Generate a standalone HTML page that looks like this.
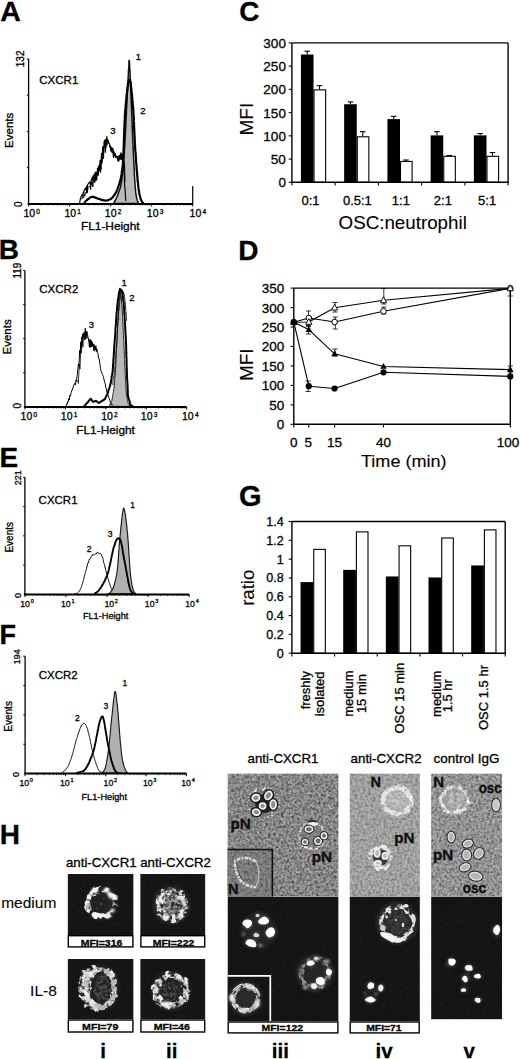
<!DOCTYPE html><html><head><meta charset="utf-8"><style>html,body{margin:0;padding:0;background:#fff;width:520px;height:1059px;overflow:hidden}svg{display:block;font-family:"Liberation Sans",sans-serif}text{stroke:#000;stroke-width:0.3px;stroke-linejoin:round}</style></head><body><svg width="520" height="1059" viewBox="0 0 520 1059" font-family="'Liberation Sans', sans-serif"><defs><filter id="nz" x="0" y="0" width="100%" height="100%"><feTurbulence type="fractalNoise" baseFrequency="0.38" numOctaves="2" seed="3" result="t"/><feColorMatrix type="matrix" values="0 0 0 0 0  0 0 0 0 0  0 0 0 0 0  2.2 0 0 0 -0.85" result="a"/><feComposite in="a" in2="SourceGraphic" operator="in"/></filter><filter id="nzw" x="0" y="0" width="100%" height="100%"><feTurbulence type="fractalNoise" baseFrequency="0.42" numOctaves="2" seed="7" result="t"/><feColorMatrix type="matrix" values="0 0 0 0 1  0 0 0 0 1  0 0 0 0 1  2.2 0 0 0 -0.9" result="a"/><feComposite in="a" in2="SourceGraphic" operator="in"/></filter><filter id="nzd" x="0" y="0" width="100%" height="100%"><feTurbulence type="fractalNoise" baseFrequency="0.3" numOctaves="2" seed="9" result="t"/><feColorMatrix type="matrix" values="0 0 0 0 1  0 0 0 0 1  0 0 0 0 1  2.5 0 0 0 -1.35" result="a"/><feComposite in="a" in2="SourceGraphic" operator="in"/></filter><filter id="bl" x="-50%" y="-50%" width="200%" height="200%"><feGaussianBlur stdDeviation="0.7"/></filter><filter id="bl1" x="-50%" y="-50%" width="200%" height="200%"><feGaussianBlur stdDeviation="1.0"/></filter><filter id="bl2" x="-50%" y="-50%" width="200%" height="200%"><feGaussianBlur stdDeviation="1.8"/></filter><filter id="bl3" x="-50%" y="-50%" width="200%" height="200%"><feGaussianBlur stdDeviation="3.5"/></filter><filter id="spk0" x="-20%" y="-20%" width="140%" height="140%"><feTurbulence type="fractalNoise" baseFrequency="0.22" numOctaves="3" seed="11" result="n"/><feColorMatrix in="n" type="matrix" values="0 0 0 0 0  0 0 0 0 0  0 0 0 0 0  6.00 0 0 0 -2.40" result="m"/><feComposite in="SourceGraphic" in2="m" operator="in" result="s"/><feGaussianBlur in="s" stdDeviation="0.7"/></filter><filter id="spk1" x="-20%" y="-20%" width="140%" height="140%"><feTurbulence type="fractalNoise" baseFrequency="0.26" numOctaves="3" seed="18" result="n"/><feColorMatrix in="n" type="matrix" values="0 0 0 0 0  0 0 0 0 0  0 0 0 0 0  6.00 0 0 0 -2.30" result="m"/><feComposite in="SourceGraphic" in2="m" operator="in" result="s"/><feGaussianBlur in="s" stdDeviation="0.7"/></filter><filter id="spk2" x="-20%" y="-20%" width="140%" height="140%"><feTurbulence type="fractalNoise" baseFrequency="0.20" numOctaves="3" seed="25" result="n"/><feColorMatrix in="n" type="matrix" values="0 0 0 0 0  0 0 0 0 0  0 0 0 0 0  6.50 0 0 0 -2.60" result="m"/><feComposite in="SourceGraphic" in2="m" operator="in" result="s"/><feGaussianBlur in="s" stdDeviation="0.7"/></filter><filter id="spk3" x="-20%" y="-20%" width="140%" height="140%"><feTurbulence type="fractalNoise" baseFrequency="0.30" numOctaves="3" seed="32" result="n"/><feColorMatrix in="n" type="matrix" values="0 0 0 0 0  0 0 0 0 0  0 0 0 0 0  5.50 0 0 0 -2.00" result="m"/><feComposite in="SourceGraphic" in2="m" operator="in" result="s"/><feGaussianBlur in="s" stdDeviation="0.7"/></filter><filter id="spk4" x="-20%" y="-20%" width="140%" height="140%"><feTurbulence type="fractalNoise" baseFrequency="0.24" numOctaves="3" seed="39" result="n"/><feColorMatrix in="n" type="matrix" values="0 0 0 0 0  0 0 0 0 0  0 0 0 0 0  5.00 0 0 0 -1.70" result="m"/><feComposite in="SourceGraphic" in2="m" operator="in" result="s"/><feGaussianBlur in="s" stdDeviation="0.7"/></filter><filter id="org0" x="-30%" y="-30%" width="160%" height="160%"><feTurbulence type="fractalNoise" baseFrequency="0.120" numOctaves="2" seed="4" result="n"/><feDisplacementMap in="SourceGraphic" in2="n" scale="8.0" xChannelSelector="R" yChannelSelector="G" result="d"/><feTurbulence type="fractalNoise" baseFrequency="0.200" numOctaves="2" seed="7" result="n2"/><feColorMatrix in="n2" type="matrix" values="0 0 0 0 0  0 0 0 0 0  0 0 0 0 0  5.00 0 0 0 -2.00" result="m"/><feComposite in="d" in2="m" operator="in" result="s"/><feGaussianBlur in="s" stdDeviation="0.7"/></filter><filter id="org1" x="-30%" y="-30%" width="160%" height="160%"><feTurbulence type="fractalNoise" baseFrequency="0.150" numOctaves="2" seed="14" result="n"/><feDisplacementMap in="SourceGraphic" in2="n" scale="6.0" xChannelSelector="R" yChannelSelector="G" result="d"/><feTurbulence type="fractalNoise" baseFrequency="0.250" numOctaves="2" seed="17" result="n2"/><feColorMatrix in="n2" type="matrix" values="0 0 0 0 0  0 0 0 0 0  0 0 0 0 0  5.00 0 0 0 -2.00" result="m"/><feComposite in="d" in2="m" operator="in" result="s"/><feGaussianBlur in="s" stdDeviation="0.7"/></filter><filter id="org2" x="-30%" y="-30%" width="160%" height="160%"><feTurbulence type="fractalNoise" baseFrequency="0.130" numOctaves="2" seed="24" result="n"/><feDisplacementMap in="SourceGraphic" in2="n" scale="7.0" xChannelSelector="R" yChannelSelector="G" result="d"/><feTurbulence type="fractalNoise" baseFrequency="0.220" numOctaves="2" seed="27" result="n2"/><feColorMatrix in="n2" type="matrix" values="0 0 0 0 0  0 0 0 0 0  0 0 0 0 0  5.00 0 0 0 -1.80" result="m"/><feComposite in="d" in2="m" operator="in" result="s"/><feGaussianBlur in="s" stdDeviation="0.7"/></filter><filter id="org3" x="-30%" y="-30%" width="160%" height="160%"><feTurbulence type="fractalNoise" baseFrequency="0.140" numOctaves="2" seed="34" result="n"/><feDisplacementMap in="SourceGraphic" in2="n" scale="7.0" xChannelSelector="R" yChannelSelector="G" result="d"/><feTurbulence type="fractalNoise" baseFrequency="0.300" numOctaves="2" seed="37" result="n2"/><feColorMatrix in="n2" type="matrix" values="0 0 0 0 0  0 0 0 0 0  0 0 0 0 0  5.00 0 0 0 -2.20" result="m"/><feComposite in="d" in2="m" operator="in" result="s"/><feGaussianBlur in="s" stdDeviation="0.7"/></filter><filter id="org4" x="-30%" y="-30%" width="160%" height="160%"><feTurbulence type="fractalNoise" baseFrequency="0.120" numOctaves="2" seed="44" result="n"/><feDisplacementMap in="SourceGraphic" in2="n" scale="6.0" xChannelSelector="R" yChannelSelector="G" result="d"/><feTurbulence type="fractalNoise" baseFrequency="0.200" numOctaves="2" seed="47" result="n2"/><feColorMatrix in="n2" type="matrix" values="0 0 0 0 0  0 0 0 0 0  0 0 0 0 0  4.50 0 0 0 -1.50" result="m"/><feComposite in="d" in2="m" operator="in" result="s"/><feGaussianBlur in="s" stdDeviation="0.7"/></filter><filter id="org5" x="-30%" y="-30%" width="160%" height="160%"><feTurbulence type="fractalNoise" baseFrequency="0.160" numOctaves="2" seed="54" result="n"/><feDisplacementMap in="SourceGraphic" in2="n" scale="5.0" xChannelSelector="R" yChannelSelector="G" result="d"/><feTurbulence type="fractalNoise" baseFrequency="0.280" numOctaves="2" seed="57" result="n2"/><feColorMatrix in="n2" type="matrix" values="0 0 0 0 0  0 0 0 0 0  0 0 0 0 0  5.00 0 0 0 -2.00" result="m"/><feComposite in="d" in2="m" operator="in" result="s"/><feGaussianBlur in="s" stdDeviation="0.7"/></filter><filter id="org6" x="-30%" y="-30%" width="160%" height="160%"><feTurbulence type="fractalNoise" baseFrequency="0.100" numOctaves="2" seed="64" result="n"/><feDisplacementMap in="SourceGraphic" in2="n" scale="5.0" xChannelSelector="R" yChannelSelector="G" result="d"/><feTurbulence type="fractalNoise" baseFrequency="0.160" numOctaves="2" seed="67" result="n2"/><feColorMatrix in="n2" type="matrix" values="0 0 0 0 0  0 0 0 0 0  0 0 0 0 0  7.00 0 0 0 -3.10" result="m"/><feComposite in="d" in2="m" operator="in" result="s"/><feGaussianBlur in="s" stdDeviation="0.7"/></filter><clipPath id="cp1"><rect x="67.60" y="874.00" width="66.00" height="61.00"/></clipPath><clipPath id="cp2"><rect x="140.20" y="874.00" width="65.20" height="61.00"/></clipPath><clipPath id="cp3"><rect x="67.60" y="959.00" width="66.00" height="60.30"/></clipPath><clipPath id="cp4"><rect x="140.20" y="959.00" width="65.20" height="60.30"/></clipPath><clipPath id="cp5"><rect x="227.50" y="773.40" width="111.10" height="123.00"/></clipPath><clipPath id="cp6"><rect x="227.50" y="896.40" width="111.10" height="124.90"/></clipPath><clipPath id="cp7"><rect x="349.50" y="773.40" width="70.40" height="123.00"/></clipPath><clipPath id="cp8"><rect x="349.50" y="896.40" width="70.40" height="124.90"/></clipPath><clipPath id="cp9"><rect x="431.10" y="773.40" width="71.10" height="123.00"/></clipPath><clipPath id="cp10"><rect x="431.10" y="896.40" width="71.10" height="123.00"/></clipPath></defs><rect width="520" height="1059" fill="#fff"/><text x="0.30" y="20.90" font-size="28.50" font-weight="bold" fill="#000">A</text>
<path d="M113.50 203.35 L113.81 202.82 L114.12 202.33 L114.44 201.63 L114.75 201.14 L115.06 200.78 L115.37 200.19 L115.68 199.49 L116.01 198.84 L116.32 198.16 L116.60 197.56 L116.88 196.99 L117.10 196.23 L117.37 195.84 L117.65 195.19 L117.90 194.59 L118.11 193.86 L118.34 193.28 L118.49 192.87 L118.72 191.93 L118.95 191.73 L119.16 190.96 L119.36 190.30 L119.57 189.62 L119.80 189.15 L120.00 188.60 L120.20 188.10 L120.29 187.40 L120.59 186.92 L120.66 186.31 L120.73 185.56 L120.91 185.00 L120.96 184.00 L121.23 183.75 L121.32 182.58 L121.34 182.16 L121.57 181.44 L121.57 181.23 L121.64 180.43 L121.77 179.90 L121.97 179.42 L122.05 178.52 L121.94 177.76 L122.01 177.38 L122.16 176.45 L122.18 176.17 L122.40 175.11 L122.49 174.72 L122.45 174.58 L122.55 173.62 L122.63 173.15 L122.69 172.46 L122.73 172.15 L122.83 171.12 L122.80 170.35 L122.91 170.33 L122.86 169.36 L123.04 168.64 L123.10 167.71 L123.05 167.58 L123.19 166.96 L123.23 166.38 L123.36 165.78 L123.29 164.62 L123.51 164.52 L123.46 163.55 L123.48 163.20 L123.53 162.39 L123.63 161.77 L123.63 161.09 L123.61 160.84 L123.80 160.06 L123.74 159.22 L123.79 158.99 L123.88 157.87 L123.86 157.66 L123.95 156.73 L124.02 156.52 L124.01 155.91 L124.16 154.87 L124.15 154.68 L124.13 153.53 L124.18 153.15 L124.35 152.75 L124.28 151.62 L124.39 151.50 L124.37 150.87 L124.39 149.70 L124.43 149.61 L124.50 148.63 L124.53 148.06 L124.52 147.84 L124.72 146.48 L124.77 146.55 L124.80 145.57 L124.69 145.34 L124.85 144.57 L124.83 143.88 L124.83 142.96 L124.80 142.28 L124.88 141.95 L124.86 141.50 L125.03 140.95 L125.10 140.34 L125.07 139.69 L125.13 138.36 L125.08 137.86 L125.15 137.63 L125.27 136.81 L125.18 136.34 L125.32 135.43 L125.34 134.98 L125.25 134.26 L125.41 133.78 L125.44 132.86 L125.47 132.84 L125.34 132.13 L125.55 131.35 L125.46 130.26 L125.54 129.81 L125.56 129.31 L125.50 128.97 L125.56 127.77 L125.58 127.20 L125.76 127.25 L125.73 125.92 L125.72 125.48 L125.82 124.88 L125.79 124.44 L125.82 123.50 L125.89 122.82 L125.89 122.67 L125.88 121.54 L126.00 121.15 L125.98 120.85 L126.06 120.24 L126.04 119.32 L126.14 118.75 L126.17 118.06 L126.11 117.47 L126.23 116.90 L126.20 115.91 L126.33 115.57 L126.25 115.35 L126.37 114.69 L126.33 113.56 L126.43 112.82 L126.48 112.63 L126.46 112.11 L126.47 111.44 L126.51 110.31 L126.45 109.60 L126.46 109.59 L126.50 108.42 L126.55 108.43 L126.71 107.12 L126.74 106.57 L126.77 106.39 L126.75 105.99 L126.67 105.24 L126.79 104.59 L126.74 103.92 L126.94 103.32 L126.85 102.15 L126.98 101.93 L126.88 101.04 L127.00 100.42 L126.98 100.20 L127.02 99.27 L127.05 98.63 L127.10 97.79 L127.11 97.88 L127.09 97.07 L127.24 96.40 L127.22 95.76 L127.28 94.99 L127.21 94.69 L127.36 93.43 L127.35 93.46 L127.42 92.45 L127.36 91.62 L127.45 91.01 L127.42 90.48 L127.59 90.15 L127.57 89.21 L127.63 88.68 L127.55 88.19 L127.53 87.27 L127.63 86.86 L127.66 85.99 L127.77 85.48 L127.85 84.71 L127.80 84.38 L127.88 83.76 L127.86 83.44 L127.92 82.56 L127.89 82.25 L128.03 81.54 L127.92 80.72 L128.05 79.93 L128.13 79.68 L128.02 79.21 L128.06 78.07 L128.18 77.46 L128.25 77.39 L128.27 76.30 L128.22 75.71 L128.19 75.41 L128.38 74.27 L128.32 73.79 L128.42 73.38 L128.39 72.29 L128.45 71.99 L128.51 71.18 L128.51 71.14 L128.49 70.17 L128.63 69.32 L128.71 68.52 L128.59 68.50 L128.69 67.86 L128.80 67.06 L128.82 66.01 L128.89 65.63 L128.91 64.65 L128.93 64.54 L128.86 63.60 L128.94 62.95 L129.04 62.52 L128.97 61.79 L129.09 61.25 L129.18 60.27 L129.25 60.65 L129.29 61.48 L129.45 61.61 L129.46 62.43 L129.48 63.08 L129.47 63.42 L129.62 63.83 L129.62 65.04 L129.62 65.70 L129.66 65.98 L129.63 67.14 L129.71 67.51 L129.77 68.38 L129.82 68.70 L129.93 69.53 L129.98 70.02 L129.89 70.46 L129.89 71.09 L130.05 72.27 L129.97 72.43 L130.11 73.25 L130.15 74.21 L130.06 74.66 L130.10 75.15 L130.21 75.89 L130.18 76.26 L130.16 77.33 L130.36 77.96 L130.28 78.68 L130.35 78.97 L130.45 79.64 L130.35 80.29 L130.41 81.04 L130.48 81.44 L130.52 81.57 L130.49 82.70 L130.51 83.20 L130.55 83.54 L130.57 84.02 L130.59 85.12 L130.72 85.68 L130.58 86.56 L130.70 87.11 L130.67 87.14 L130.64 87.91 L130.84 88.78 L130.85 89.23 L130.73 90.16 L130.85 90.91 L130.89 91.59 L130.84 92.07 L130.99 92.75 L130.91 93.41 L130.95 93.96 L130.88 94.06 L130.94 94.66 L131.02 95.35 L131.06 96.41 L131.10 96.81 L131.09 97.34 L131.11 98.33 L131.23 98.49 L131.15 99.55 L131.21 99.90 L131.17 100.70 L131.19 100.85 L131.20 102.10 L131.24 102.47 L131.26 102.89 L131.28 103.67 L131.30 104.00 L131.40 104.73 L131.33 105.27 L131.43 106.21 L131.39 107.04 L131.48 107.42 L131.62 107.75 L131.47 108.53 L131.51 109.35 L131.57 110.10 L131.54 110.32 L131.61 111.43 L131.67 112.11 L131.66 112.85 L131.68 112.92 L131.78 114.00 L131.69 114.25 L131.89 115.15 L131.73 115.70 L131.77 115.87 L131.78 116.61 L131.93 117.14 L131.87 118.45 L131.95 119.13 L132.06 119.62 L131.91 120.35 L132.05 120.47 L131.97 121.61 L132.14 121.71 L132.08 122.19 L132.16 122.99 L132.08 124.09 L132.22 124.57 L132.21 125.27 L132.20 125.96 L132.20 126.18 L132.27 127.10 L132.23 127.32 L132.35 128.30 L132.33 128.92 L132.31 129.36 L132.30 130.17 L132.48 130.60 L132.37 131.39 L132.54 131.66 L132.58 132.61 L132.51 133.42 L132.60 134.07 L132.55 134.24 L132.58 134.66 L132.55 135.99 L132.57 136.31 L132.70 136.54 L132.61 137.29 L132.75 137.85 L132.65 138.82 L132.87 139.16 L132.81 139.78 L132.88 140.56 L132.91 141.33 L132.81 141.90 L132.82 142.24 L132.85 143.39 L133.04 143.37 L133.06 144.13 L133.00 144.67 L133.10 145.40 L133.09 146.34 L133.16 147.08 L133.14 147.38 L133.07 148.08 L133.19 149.02 L133.14 149.63 L133.22 150.03 L133.17 150.81 L133.28 151.13 L133.32 151.53 L133.32 152.69 L133.39 153.24 L133.36 153.52 L133.39 154.77 L133.37 154.94 L133.41 155.40 L133.56 156.59 L133.64 157.17 L133.66 157.59 L133.59 158.15 L133.72 159.11 L133.67 159.73 L133.68 160.22 L133.82 161.02 L133.85 161.08 L133.71 161.62 L133.78 162.68 L133.88 163.14 L133.94 163.38 L133.91 164.20 L134.00 164.88 L133.94 165.83 L133.98 165.95 L133.97 166.83 L134.14 167.26 L134.21 168.33 L134.23 169.18 L134.12 169.33 L134.21 169.92 L134.26 170.72 L134.35 171.22 L134.31 171.79 L134.41 172.91 L134.33 173.07 L134.32 174.11 L134.46 174.21 L134.42 175.13 L134.46 175.34 L134.54 176.52 L134.64 177.28 L134.52 177.88 L134.55 177.85 L134.65 178.65 L134.73 178.95 L134.71 179.59 L134.84 180.31 L134.77 181.04 L134.84 181.37 L134.91 182.39 L134.97 183.19 L134.89 183.33 L135.05 184.31 L135.10 184.78 L135.08 185.44 L135.09 185.84 L135.26 186.77 L135.26 187.56 L135.37 188.05 L135.38 188.77 L135.42 189.18 L135.44 189.69 L135.58 190.59 L135.60 191.15 L135.68 191.68 L135.76 192.52 L135.82 193.21 L135.93 193.54 L136.04 194.21 L136.12 195.01 L136.15 195.54 L136.32 196.17 L136.44 196.78 L136.61 197.50 L136.73 197.94 L136.86 198.67 L137.01 199.47 L137.24 200.07 L137.49 200.81 L137.76 201.35 L138.00 202.01 L138.25 202.82 L138.50 203.36 L138.50 203.40 L113.50 203.40 Z" fill="#b9b9b9" stroke="#111" stroke-width="1.50" stroke-linejoin="round"/>
<path d="M79.00 203.40 L79.55 203.40 L80.39 198.70 L81.18 196.31 L82.38 194.26 L82.93 195.72 L83.31 192.07 L83.86 192.61 L84.23 190.16 L85.50 187.92 L86.05 190.04 L86.68 186.06 L87.23 192.36 L87.59 184.79 L88.93 182.81 L90.06 181.73 L90.61 189.17 L91.28 180.23 L92.25 177.37 L92.80 180.44 L93.06 175.75 L93.61 177.73 L94.28 173.75 L94.83 182.42 L95.37 172.03 L95.92 180.22 L96.18 172.41 L96.73 179.68 L97.50 168.14 L98.05 174.74 L98.66 165.78 L99.21 170.88 L100.06 160.42 L100.61 172.30 L101.45 153.22 L102.00 161.18 L102.73 146.66 L103.28 157.97 L104.07 141.76 L104.90 140.06 L105.45 152.17 L105.89 139.17 L106.44 143.76 L106.87 136.65 L107.42 141.34 L108.10 141.79 L108.65 143.05 L109.52 143.86 L110.07 147.92 L110.68 146.28 L111.23 150.95 L111.49 147.67 L112.04 152.47 L112.81 148.15 L113.36 157.32 L114.00 151.47 L114.55 155.67 L114.86 153.27 L115.41 157.38 L116.29 156.12 L117.36 156.58 L117.91 161.11 L118.32 156.01 L118.87 159.91 L119.75 155.05 L120.30 158.58 L120.74 152.75 L121.29 158.89 L122.08 153.64 L122.63 159.06 L123.31 161.13 L123.86 164.06 L124.55 184.29 L125.10 189.69 L125.77 201.02" fill="none" stroke="#000" stroke-width="1.15" stroke-linejoin="round"/>
<path d="M81.60 199.29 L82.89 196.42 L83.54 197.92 L84.17 194.43 L84.82 196.13 L85.29 192.58 L85.94 193.78 L86.62 190.39 L87.27 192.43 L88.16 187.59 L89.60 186.01 L90.25 186.90 L91.13 183.54 L91.78 184.65 L92.20 181.51 L92.85 186.92 L93.57 178.46 L94.22 181.87 L95.21 176.61 L95.86 180.64 L96.66 174.31 L97.59 172.26 L98.24 175.53 L98.96 169.55 L100.28 165.55 L100.93 169.50 L101.34 160.66 L101.99 163.43 L102.93 152.56 L103.58 158.58 L103.85 148.29 L105.25 143.54 L105.90 148.06 L106.26 141.93 L106.91 145.44 L107.75 139.34 L108.85 143.10 L110.28 146.28 L110.93 151.13 L111.81 148.15 L112.46 152.38 L113.04 149.59 L113.69 152.25 L114.33 152.54 L114.98 153.18 L115.34 154.20 L115.99 156.08 L116.60 157.06 L117.25 159.10 L118.20 158.85 L118.85 161.28 L119.48 157.52 L120.13 159.68 L121.02 155.88 L121.67 159.72 L122.65 155.43 L123.30 157.20 L123.87 160.39 L124.52 163.83 L125.00 180.12 L125.65 181.34" fill="none" stroke="#000" stroke-width="1.00" stroke-linejoin="round"/>
<path d="M84.00 203.36 L84.50 202.84 L85.00 202.21 L85.50 201.47 L85.95 201.00 L86.39 200.56 L86.86 200.22 L87.41 199.61 L88.00 199.30 L88.55 198.78 L89.03 198.59 L89.54 198.20 L90.03 197.55 L90.72 197.32 L91.36 196.96 L91.94 197.05 L92.52 196.90 L93.63 196.83 L94.23 197.29 L94.82 197.31 L95.39 197.56 L96.01 197.94 L96.60 197.94 L97.22 198.30 L97.79 198.62 L98.36 198.91 L98.97 198.88 L99.54 198.98 L100.13 199.13 L100.70 199.60 L101.37 199.84 L102.06 199.97 L102.74 200.13 L103.43 200.42 L104.10 200.49 L104.73 200.35 L105.36 200.55 L105.97 200.61 L106.60 200.46 L107.22 200.34 L107.78 200.19 L108.37 199.95 L108.93 199.77 L109.52 199.66 L110.07 199.35 L110.62 199.08 L111.14 198.76 L111.65 198.11 L112.20 197.70 L112.68 197.52 L113.08 196.62 L113.50 196.08 L113.88 195.69 L114.29 194.84 L114.71 194.47 L115.12 194.22 L115.43 193.38 L115.69 192.88 L116.09 192.41 L116.42 191.80 L116.69 190.91 L117.04 190.12 L117.21 189.44 L117.46 188.89 L117.68 188.34 L117.94 187.45 L118.21 186.87 L118.54 186.17 L118.62 185.97 L118.86 185.04 L119.02 184.49 L119.39 184.25 L119.49 183.29 L119.62 182.31 L119.82 181.89 L119.96 181.69 L120.30 180.31 L120.28 180.14 L120.42 179.51 L120.82 178.85 L120.87 178.53 L120.91 177.27 L121.13 176.51 L121.26 176.22 L121.24 175.36 L121.55 175.18 L121.63 174.56 L121.73 173.87 L121.77 172.67 L121.73 172.19 L121.88 171.25 L122.07 170.87 L122.09 170.96 L122.32 170.33 L122.25 169.74 L122.30 168.40 L122.38 167.76 L122.64 167.58 L122.62 167.19 L122.74 166.39 L122.75 165.20 L122.83 165.41 L122.79 164.64 L122.92 163.45 L122.96 162.99 L122.91 163.01 L123.09 161.83 L122.94 161.53 L122.98 160.32 L123.18 160.48 L123.23 159.11 L123.23 159.33 L123.25 158.08 L123.16 157.25 L123.36 157.47 L123.45 156.41 L123.46 155.70 L123.32 155.47 L123.36 154.28 L123.45 153.65 L123.43 153.05 L123.58 152.30 L123.49 151.90 L123.62 151.51 L123.64 150.73 L123.57 150.19 L123.46 149.59 L123.52 148.89 L123.70 147.84 L123.64 147.39 L123.68 147.32 L123.69 146.30 L123.78 145.91 L123.75 144.84 L123.70 144.37 L123.78 144.27 L123.86 143.45 L123.81 143.19 L123.84 142.28 L123.91 141.57 L123.90 140.90 L124.02 140.31 L124.03 139.92 L123.89 139.55 L124.09 138.56 L123.91 138.23 L124.01 136.90 L123.98 136.24 L124.11 135.63 L124.19 135.73 L124.17 134.49 L124.05 134.38 L124.27 133.99 L124.29 132.72 L124.20 132.28 L124.31 132.26 L124.23 130.83 L124.23 130.59 L124.25 129.66 L124.20 129.59 L124.33 128.82 L124.32 127.68 L124.39 127.68 L124.54 126.52 L124.56 126.64 L124.40 125.35 L124.56 124.69 L124.42 124.31 L124.64 123.86 L124.50 123.66 L124.69 122.38 L124.65 122.20 L124.52 121.12 L124.63 121.12 L124.78 119.90 L124.79 119.83 L124.84 118.66 L124.88 118.02 L124.78 117.78 L124.97 117.25 L124.80 116.34 L124.87 115.98 L124.88 114.93 L124.93 114.25 L124.99 113.89 L125.03 113.71 L125.03 112.83 L125.03 112.05 L125.07 111.33 L125.24 111.18 L125.27 110.03 L125.23 110.17 L125.37 109.44 L125.53 108.51 L125.50 107.80 L125.67 107.49 L125.69 106.53 L125.69 106.29 L125.67 105.38 L125.67 104.42 L125.88 103.83 L125.79 103.41 L126.02 102.63 L126.03 102.81 L125.98 101.62 L126.09 101.02 L126.15 100.28 L126.33 99.79 L126.28 99.89 L126.45 98.56 L126.35 98.02 L126.41 97.11 L126.50 96.97 L126.56 96.10 L126.56 95.30 L126.65 94.79 L126.62 94.14 L126.73 93.80 L126.87 93.49 L126.96 93.05 L127.07 92.42 L127.00 91.49 L127.01 91.48 L127.21 90.56 L127.34 89.22 L127.37 89.41 L127.49 88.59 L127.50 87.34 L127.66 87.04 L127.73 86.68 L127.85 85.81 L127.90 85.26 L127.83 84.15 L128.02 83.41 L128.23 82.73 L128.35 82.43 L128.53 81.75 L128.53 80.86 L128.96 80.55 L129.16 79.63 L129.54 79.66 L130.09 80.74 L130.25 80.82 L130.39 82.23 L130.74 82.99 L130.69 83.44 L130.85 84.13 L130.92 85.12 L130.88 85.69 L131.01 85.90 L131.10 87.17 L131.10 87.67 L131.23 87.85 L131.41 89.14 L131.38 89.82 L131.49 90.34 L131.48 90.97 L131.55 91.99 L131.79 92.68 L131.73 92.32 L131.91 93.72 L131.79 93.95 L132.02 94.31 L131.98 94.91 L132.02 95.44 L131.98 96.85 L132.13 97.32 L132.23 97.99 L132.33 97.94 L132.17 98.80 L132.34 98.92 L132.35 99.97 L132.41 100.27 L132.59 101.05 L132.62 101.34 L132.52 102.78 L132.72 103.47 L132.67 104.05 L132.75 104.13 L132.86 105.37 L132.87 105.34 L132.83 105.86 L133.08 106.29 L133.16 107.09 L133.05 107.66 L133.08 108.53 L133.33 109.00 L133.34 110.12 L133.42 110.47 L133.39 111.39 L133.30 111.79 L133.43 112.43 L133.51 113.08 L133.40 113.24 L133.45 114.50 L133.54 114.67 L133.68 115.12 L133.59 116.43 L133.63 116.73 L133.69 117.26 L133.67 117.49 L133.89 118.16 L133.75 119.07 L133.98 120.11 L133.80 120.27 L133.82 120.64 L133.84 121.40 L133.91 121.90 L134.09 122.83 L133.99 123.62 L134.04 123.89 L134.01 124.46 L134.02 124.75 L134.00 126.26 L134.15 126.40 L134.07 127.36 L134.10 127.37 L134.17 128.11 L134.29 129.27 L134.11 129.79 L134.30 129.55 L134.26 131.02 L134.16 131.32 L134.42 131.73 L134.42 132.77 L134.29 133.52 L134.29 133.26 L134.46 134.30 L134.50 135.34 L134.55 135.67 L134.53 136.10 L134.62 136.30 L134.69 137.12 L134.57 138.16 L134.59 138.26 L134.74 139.39 L134.62 139.49 L134.78 140.53 L134.72 141.01 L134.70 141.85 L134.85 142.17 L134.93 143.45 L134.93 144.00 L134.90 143.97 L135.05 145.32 L134.92 145.29 L135.11 146.10 L135.04 146.65 L135.25 147.52 L135.06 147.70 L135.20 148.43 L135.19 149.38 L135.37 150.11 L135.28 150.43 L135.35 151.51 L135.37 151.98 L135.55 151.99 L135.64 152.68 L135.49 153.49 L135.60 153.83 L135.77 154.89 L135.68 154.98 L135.87 155.66 L135.68 156.21 L135.81 156.74 L135.98 158.19 L136.05 158.64 L135.93 159.45 L136.12 159.32 L135.94 160.49 L136.07 161.02 L136.11 161.35 L136.07 161.75 L136.20 162.48 L136.19 163.77 L136.25 164.39 L136.45 164.39 L136.41 165.47 L136.46 165.31 L136.63 166.25 L136.54 166.68 L136.50 168.00 L136.74 168.13 L136.60 169.10 L136.65 168.98 L136.75 170.48 L136.96 170.92 L136.85 171.12 L136.99 172.35 L137.06 172.27 L137.00 172.94 L137.17 173.24 L137.19 174.76 L137.08 175.40 L137.25 175.31 L137.41 176.64 L137.29 176.69 L137.40 177.34 L137.38 178.45 L137.58 178.94 L137.64 179.56 L137.59 179.97 L137.66 180.31 L137.65 181.35 L137.85 181.43 L137.76 182.09 L137.92 182.52 L138.06 183.39 L138.12 184.47 L138.00 184.57 L138.14 185.06 L138.18 186.15 L138.24 186.40 L138.37 187.31 L138.50 188.03 L138.48 188.59 L138.60 189.33 L138.71 189.77 L138.79 190.50 L138.89 190.82 L139.06 191.39 L139.09 192.27 L139.26 192.79 L139.28 193.48 L139.41 194.26 L139.54 195.00 L139.78 195.39 L139.96 196.21 L140.09 196.49 L140.26 197.19 L140.45 198.19 L140.62 198.82 L140.80 199.44 L141.07 199.81 L141.32 200.64 L141.60 201.12 L141.86 201.59 L142.12 202.17 L142.75 202.58 L143.37 203.06 L144.00 203.28" fill="none" stroke="#000" stroke-width="2.20" stroke-linejoin="round"/>
<line x1="192.70" y1="186.00" x2="192.70" y2="203.90" stroke="#000" stroke-width="1.20"/>
<line x1="28.60" y1="59.00" x2="28.60" y2="203.90" stroke="#000" stroke-width="1.30"/>
<line x1="26.80" y1="59.00" x2="28.60" y2="59.00" stroke="#000" stroke-width="1.00"/>
<line x1="26.80" y1="95.22" x2="28.60" y2="95.22" stroke="#000" stroke-width="1.00"/>
<line x1="26.80" y1="131.45" x2="28.60" y2="131.45" stroke="#000" stroke-width="1.00"/>
<line x1="26.80" y1="167.68" x2="28.60" y2="167.68" stroke="#000" stroke-width="1.00"/>
<line x1="27.60" y1="203.90" x2="192.70" y2="203.90" stroke="#000" stroke-width="2.00"/>
<line x1="28.60" y1="203.90" x2="28.60" y2="206.50" stroke="#000" stroke-width="1.00"/>
<line x1="69.62" y1="203.90" x2="69.62" y2="206.50" stroke="#000" stroke-width="1.00"/>
<line x1="110.65" y1="203.90" x2="110.65" y2="206.50" stroke="#000" stroke-width="1.00"/>
<line x1="151.67" y1="203.90" x2="151.67" y2="206.50" stroke="#000" stroke-width="1.00"/>
<line x1="192.70" y1="203.90" x2="192.70" y2="206.50" stroke="#000" stroke-width="1.00"/>
<line x1="40.95" y1="203.90" x2="40.95" y2="205.50" stroke="#000" stroke-width="0.70"/>
<line x1="48.17" y1="203.90" x2="48.17" y2="205.50" stroke="#000" stroke-width="0.70"/>
<line x1="53.30" y1="203.90" x2="53.30" y2="205.50" stroke="#000" stroke-width="0.70"/>
<line x1="57.28" y1="203.90" x2="57.28" y2="205.50" stroke="#000" stroke-width="0.70"/>
<line x1="60.52" y1="203.90" x2="60.52" y2="205.50" stroke="#000" stroke-width="0.70"/>
<line x1="63.27" y1="203.90" x2="63.27" y2="205.50" stroke="#000" stroke-width="0.70"/>
<line x1="65.65" y1="203.90" x2="65.65" y2="205.50" stroke="#000" stroke-width="0.70"/>
<line x1="67.75" y1="203.90" x2="67.75" y2="205.50" stroke="#000" stroke-width="0.70"/>
<line x1="81.97" y1="203.90" x2="81.97" y2="205.50" stroke="#000" stroke-width="0.70"/>
<line x1="89.20" y1="203.90" x2="89.20" y2="205.50" stroke="#000" stroke-width="0.70"/>
<line x1="94.32" y1="203.90" x2="94.32" y2="205.50" stroke="#000" stroke-width="0.70"/>
<line x1="98.30" y1="203.90" x2="98.30" y2="205.50" stroke="#000" stroke-width="0.70"/>
<line x1="101.55" y1="203.90" x2="101.55" y2="205.50" stroke="#000" stroke-width="0.70"/>
<line x1="104.30" y1="203.90" x2="104.30" y2="205.50" stroke="#000" stroke-width="0.70"/>
<line x1="106.67" y1="203.90" x2="106.67" y2="205.50" stroke="#000" stroke-width="0.70"/>
<line x1="108.77" y1="203.90" x2="108.77" y2="205.50" stroke="#000" stroke-width="0.70"/>
<line x1="123.00" y1="203.90" x2="123.00" y2="205.50" stroke="#000" stroke-width="0.70"/>
<line x1="130.22" y1="203.90" x2="130.22" y2="205.50" stroke="#000" stroke-width="0.70"/>
<line x1="135.35" y1="203.90" x2="135.35" y2="205.50" stroke="#000" stroke-width="0.70"/>
<line x1="139.33" y1="203.90" x2="139.33" y2="205.50" stroke="#000" stroke-width="0.70"/>
<line x1="142.57" y1="203.90" x2="142.57" y2="205.50" stroke="#000" stroke-width="0.70"/>
<line x1="145.32" y1="203.90" x2="145.32" y2="205.50" stroke="#000" stroke-width="0.70"/>
<line x1="147.70" y1="203.90" x2="147.70" y2="205.50" stroke="#000" stroke-width="0.70"/>
<line x1="149.80" y1="203.90" x2="149.80" y2="205.50" stroke="#000" stroke-width="0.70"/>
<line x1="164.02" y1="203.90" x2="164.02" y2="205.50" stroke="#000" stroke-width="0.70"/>
<line x1="171.25" y1="203.90" x2="171.25" y2="205.50" stroke="#000" stroke-width="0.70"/>
<line x1="176.37" y1="203.90" x2="176.37" y2="205.50" stroke="#000" stroke-width="0.70"/>
<line x1="180.35" y1="203.90" x2="180.35" y2="205.50" stroke="#000" stroke-width="0.70"/>
<line x1="183.60" y1="203.90" x2="183.60" y2="205.50" stroke="#000" stroke-width="0.70"/>
<line x1="186.35" y1="203.90" x2="186.35" y2="205.50" stroke="#000" stroke-width="0.70"/>
<line x1="188.72" y1="203.90" x2="188.72" y2="205.50" stroke="#000" stroke-width="0.70"/>
<line x1="190.82" y1="203.90" x2="190.82" y2="205.50" stroke="#000" stroke-width="0.70"/>
<text x="24.10" y="58.85" font-size="10.00" text-anchor="middle" fill="#000" transform="rotate(-90 24.10 58.85)">132</text>
<text x="21.70" y="204.20" font-size="10.00" text-anchor="middle" fill="#000" transform="rotate(-90 21.70 204.20)">0</text>
<text x="13.20" y="130.30" font-size="11.50" text-anchor="middle" fill="#000" transform="rotate(-90 13.20 130.30)">Events</text>
<text x="39.30" y="83.80" font-size="11.50" fill="#000">CXCR1</text>
<text x="81.00" y="230.30" font-size="10.50" fill="#000" textLength="58.6" lengthAdjust="spacingAndGlyphs">FL1-Height</text>
<text x="23.40" y="216.60" font-size="10.50" fill="#000">10</text>
<text x="36.28" y="213.74" font-size="6.50" fill="#000">0</text>
<text x="64.40" y="216.60" font-size="10.50" fill="#000">10</text>
<text x="77.28" y="213.74" font-size="6.50" fill="#000">1</text>
<text x="104.80" y="216.60" font-size="10.50" fill="#000">10</text>
<text x="117.68" y="213.74" font-size="6.50" fill="#000">2</text>
<text x="146.80" y="216.60" font-size="10.50" fill="#000">10</text>
<text x="159.68" y="213.74" font-size="6.50" fill="#000">3</text>
<text x="189.60" y="216.60" font-size="10.50" fill="#000">10</text>
<text x="202.48" y="213.74" font-size="6.50" fill="#000">4</text>
<text x="135.80" y="59.60" font-size="9.50" fill="#000">1</text>
<text x="140.20" y="113.50" font-size="9.50" fill="#000">2</text>
<text x="110.20" y="133.70" font-size="9.50" fill="#000">3</text>
<text x="-1.20" y="258.60" font-size="28.00" font-weight="bold" fill="#000">B</text>
<path d="M109.00 406.39 L109.37 405.72 L109.75 404.80 L110.13 403.90 L110.51 403.24 L110.87 402.25 L111.26 401.44 L111.60 400.88 L112.03 400.21 L112.14 399.27 L112.23 398.23 L112.36 397.61 L112.51 396.63 L112.66 395.74 L112.84 395.17 L112.95 394.41 L113.09 393.60 L113.17 392.77 L113.40 392.34 L113.50 391.44 L113.56 390.27 L113.66 389.44 L113.85 389.01 L113.98 388.28 L114.13 387.56 L114.08 385.94 L114.20 385.90 L114.25 385.16 L114.37 383.51 L114.36 383.36 L114.44 381.87 L114.61 381.92 L114.55 380.25 L114.57 379.42 L114.67 379.30 L114.81 378.24 L114.94 377.05 L114.99 376.18 L115.00 375.34 L115.03 374.62 L115.23 374.56 L115.32 373.08 L115.27 372.17 L115.40 371.99 L115.55 370.42 L115.44 369.71 L115.50 369.47 L115.48 368.18 L115.65 367.17 L115.69 366.52 L115.70 365.84 L115.75 365.62 L115.89 364.43 L115.75 363.23 L115.96 363.15 L115.84 361.68 L116.07 361.37 L116.12 360.02 L116.07 359.90 L115.99 358.63 L116.24 357.44 L116.22 356.84 L116.29 356.05 L116.20 355.58 L116.35 354.35 L116.27 353.44 L116.47 353.12 L116.37 352.37 L116.39 351.87 L116.45 350.16 L116.44 349.78 L116.56 348.71 L116.54 348.30 L116.77 347.28 L116.76 347.09 L116.78 346.00 L116.68 344.64 L116.94 343.71 L116.99 343.59 L116.95 342.10 L117.01 341.76 L117.12 340.79 L117.04 339.74 L117.17 339.59 L117.16 338.79 L117.25 338.04 L117.23 336.79 L117.32 336.53 L117.34 335.24 L117.32 334.88 L117.31 333.83 L117.41 332.99 L117.45 331.68 L117.55 331.78 L117.47 330.71 L117.56 329.91 L117.66 328.81 L117.68 327.65 L117.68 326.79 L117.62 326.43 L117.73 325.84 L117.87 324.95 L117.68 323.79 L117.89 323.03 L117.80 322.12 L117.96 322.02 L118.06 320.75 L118.04 319.83 L118.03 318.90 L118.20 318.71 L118.12 317.98 L118.15 316.88 L118.24 315.64 L118.38 315.54 L118.45 314.61 L118.30 313.38 L118.38 312.75 L118.46 311.71 L118.53 311.33 L118.66 310.22 L118.61 310.08 L118.55 308.37 L118.61 308.37 L118.79 307.41 L118.89 306.21 L118.77 305.12 L118.79 304.75 L118.89 304.33 L118.89 302.84 L119.04 302.53 L119.14 301.73 L119.27 301.11 L119.12 300.18 L119.22 299.11 L119.39 297.78 L119.42 297.62 L119.56 296.32 L119.71 295.88 L119.86 294.93 L119.97 293.85 L119.90 293.50 L120.16 292.66 L120.19 290.99 L120.40 290.63 L120.45 291.21 L120.64 292.55 L120.69 293.44 L120.76 293.98 L121.05 294.89 L121.15 295.64 L121.33 296.05 L121.49 297.65 L121.57 298.04 L121.65 298.64 L121.56 299.99 L121.63 300.03 L121.76 301.31 L121.62 302.06 L121.68 303.20 L121.76 304.00 L121.96 304.35 L121.85 304.97 L122.04 306.16 L122.08 307.30 L122.08 308.22 L122.02 309.04 L122.18 309.13 L122.28 310.01 L122.28 311.18 L122.33 312.20 L122.34 312.48 L122.51 313.83 L122.55 314.00 L122.52 315.58 L122.48 316.00 L122.61 316.78 L122.54 317.66 L122.71 318.84 L122.83 319.09 L122.80 320.06 L122.73 321.00 L122.86 321.65 L123.02 322.88 L122.95 323.00 L122.98 323.66 L123.13 325.15 L123.03 325.62 L123.14 326.14 L123.06 327.68 L123.07 328.34 L123.16 328.57 L123.22 329.86 L123.33 330.34 L123.40 330.90 L123.38 331.72 L123.34 332.65 L123.44 333.74 L123.48 334.39 L123.45 335.35 L123.61 335.83 L123.62 337.07 L123.68 338.09 L123.62 338.91 L123.81 339.60 L123.72 340.56 L123.91 340.78 L123.97 341.49 L123.79 342.97 L123.98 343.13 L123.86 343.95 L123.98 345.33 L123.94 346.10 L124.11 346.52 L124.02 346.94 L124.23 348.41 L124.07 349.50 L124.26 349.84 L124.27 350.65 L124.15 351.14 L124.17 351.86 L124.33 353.12 L124.27 353.94 L124.31 354.36 L124.54 355.82 L124.35 356.72 L124.60 356.66 L124.58 357.87 L124.54 358.54 L124.56 359.53 L124.49 360.42 L124.73 361.33 L124.67 361.62 L124.69 362.98 L124.66 363.24 L124.65 364.37 L124.88 365.55 L124.93 366.17 L124.85 366.90 L124.90 367.68 L125.01 368.87 L125.07 368.95 L125.07 370.24 L125.02 371.13 L125.18 372.03 L125.20 372.64 L125.15 373.52 L125.11 374.30 L125.26 374.73 L125.28 375.21 L125.39 376.66 L125.51 377.07 L125.40 378.31 L125.51 379.12 L125.51 379.81 L125.61 381.09 L125.69 381.61 L125.55 382.69 L125.77 383.15 L125.73 383.63 L125.73 384.26 L125.76 385.37 L125.97 386.08 L125.93 387.15 L125.99 388.30 L126.05 389.13 L126.00 389.79 L126.15 390.44 L126.22 390.86 L126.20 391.77 L126.34 392.63 L126.42 393.76 L126.61 394.81 L126.76 395.40 L126.87 396.16 L127.04 397.16 L127.19 397.81 L127.27 398.67 L127.42 399.50 L127.60 400.31 L127.74 401.26 L127.84 402.25 L128.02 403.17 L128.51 403.71 L129.00 404.68 L129.50 405.68 L130.00 406.40 L130.00 406.40 L109.00 406.40 Z" fill="#b9b9b9" stroke="#111" stroke-width="1.00" stroke-linejoin="round"/>
<path d="M65.50 406.40 L66.05 406.40 L66.83 403.57 L67.38 403.94 L67.75 401.26 L68.30 401.87 L68.66 398.51 L69.21 400.04 L69.83 395.25 L70.38 396.15 L71.18 392.42 L72.49 389.07 L73.79 385.45 L74.88 383.09 L75.43 384.85 L75.89 380.23 L76.44 381.32 L77.20 375.16 L78.42 363.85 L78.97 366.18 L79.64 350.39 L80.19 353.88 L80.76 341.78 L81.31 349.06 L81.79 336.75 L82.34 341.54 L82.71 333.80 L83.26 337.08 L83.91 332.54 L84.46 340.00 L85.30 328.29 L85.85 339.20 L86.62 331.25 L87.17 337.19 L87.97 337.75 L88.87 339.30 L89.42 347.25 L89.73 339.72 L90.28 347.35 L90.64 339.61 L91.19 346.87 L91.65 341.18 L92.20 345.45 L92.52 342.84 L93.07 346.52 L93.34 344.18 L93.89 350.71 L94.14 344.65 L94.69 347.56 L94.91 346.49 L95.46 350.01 L95.86 345.75 L96.41 351.55 L96.87 348.80 L97.42 352.86 L97.97 353.58 L98.52 358.42 L99.18 358.53 L99.73 363.19 L100.55 368.46 L101.10 371.13 L101.88 372.95 L102.43 374.39 L102.81 375.24 L103.36 376.62 L103.60 377.85 L104.15 379.95 L104.77 382.74 L105.32 383.86 L105.86 388.06 L106.41 388.99 L106.92 392.07 L107.76 395.08 L108.31 395.55 L108.79 397.63 L109.34 398.40 L109.85 400.79 L110.65 402.48 L111.20 403.09 L111.63 404.53 L112.18 404.45 L112.40 405.52" fill="none" stroke="#000" stroke-width="1.00" stroke-linejoin="round"/>
<path d="M77.70 380.00 L78.35 383.47 L79.34 364.45 L79.99 369.11 L80.77 349.44 L81.42 352.80 L82.28 340.51 L82.93 346.82 L83.47 336.36 L84.88 332.60 L85.53 338.27 L85.91 331.92 L86.56 335.12 L86.89 331.51 L88.11 337.31 L88.76 341.47 L89.70 340.72 L90.35 345.17 L91.11 340.49 L91.76 347.14 L92.42 342.16 L93.07 345.16 L93.95 345.72 L94.60 351.41" fill="none" stroke="#000" stroke-width="0.80" stroke-linejoin="round"/>
<path d="M84.00 406.40 L84.60 405.84 L85.20 405.12 L85.79 404.41 L86.40 403.52 L86.99 403.09 L87.52 402.37 L88.08 401.88 L88.61 401.07 L89.13 400.30 L89.62 400.02 L90.18 399.32 L90.68 398.82 L91.19 399.30 L91.61 400.02 L92.11 400.46 L92.57 401.31 L93.01 401.86 L94.02 401.79 L94.99 401.14 L96.01 400.82 L96.77 401.44 L97.51 401.95 L98.24 402.63 L99.02 403.02 L99.74 402.51 L100.51 401.91 L101.26 401.38 L102.00 401.02 L102.76 400.34 L103.49 400.18 L104.28 399.42 L104.98 399.04 L105.39 397.97 L105.74 397.35 L106.13 396.52 L106.47 395.99 L106.91 394.82 L107.17 394.54 L107.62 393.54 L107.88 392.65 L108.11 392.25 L108.29 391.07 L108.53 390.18 L108.78 389.28 L109.08 389.06 L109.40 388.25 L109.48 387.48 L109.73 386.80 L110.13 385.89 L110.29 385.01 L110.46 383.69 L110.74 383.43 L110.86 382.53 L110.99 381.37 L111.15 381.12 L111.27 379.99 L111.40 379.35 L111.63 378.45 L111.56 377.95 L111.67 376.72 L111.75 375.96 L112.00 375.54 L112.20 374.42 L112.24 373.53 L112.36 373.33 L112.43 372.21 L112.64 371.80 L112.66 370.30 L112.76 369.76 L112.74 368.86 L112.92 368.08 L112.91 367.44 L112.98 366.29 L113.03 365.55 L113.04 364.20 L113.23 364.34 L113.27 362.99 L113.21 361.91 L113.37 361.38 L113.37 360.06 L113.46 360.11 L113.39 359.37 L113.63 358.45 L113.61 356.74 L113.59 356.64 L113.81 355.70 L113.76 355.02 L113.84 353.45 L113.90 352.75 L113.91 352.00 L114.08 351.44 L114.03 351.04 L114.18 349.25 L114.23 348.75 L114.11 348.41 L114.23 347.48 L114.30 346.24 L114.33 345.63 L114.40 344.75 L114.45 343.55 L114.52 343.28 L114.59 341.97 L114.80 341.15 L114.65 340.89 L114.78 339.57 L114.82 338.97 L114.97 338.14 L114.98 336.94 L115.03 336.12 L115.15 335.44 L115.24 335.17 L115.22 333.87 L115.30 332.80 L115.28 332.58 L115.42 331.29 L115.49 330.89 L115.41 329.60 L115.45 328.73 L115.49 327.65 L115.62 327.31 L115.67 326.88 L115.86 325.33 L115.77 324.40 L115.82 324.26 L115.98 323.63 L116.07 322.14 L116.04 321.93 L115.99 320.32 L116.24 320.16 L116.27 319.17 L116.20 318.48 L116.41 317.07 L116.36 316.86 L116.33 315.46 L116.59 314.77 L116.50 313.73 L116.62 312.74 L116.72 311.91 L116.74 311.50 L116.79 310.42 L117.03 310.21 L116.93 309.22 L117.05 307.83 L117.27 307.65 L117.27 306.16 L117.31 305.46 L117.46 304.43 L117.59 304.17 L117.55 303.02 L117.55 302.34 L117.79 301.73 L117.78 300.23 L118.03 299.69 L118.01 299.09 L118.33 298.55 L118.36 297.66 L118.48 296.47 L118.64 296.18 L118.70 295.36 L118.91 293.63 L119.00 293.00 L119.11 292.04 L119.32 291.57 L119.68 290.55 L119.83 289.63 L120.04 288.88 L121.27 290.06 L121.56 290.28 L122.00 291.53 L122.19 292.45 L122.70 293.12 L122.75 294.25 L122.73 294.21 L122.80 295.38 L122.92 296.46 L122.88 297.48 L122.98 298.11 L123.07 298.62 L123.27 299.28 L123.21 300.66 L123.30 300.89 L123.39 302.04 L123.64 302.30 L123.74 302.95 L123.84 303.97 L123.70 304.61 L123.81 305.79 L123.86 306.77 L123.85 307.26 L123.90 307.83 L124.17 309.02 L124.09 309.90 L124.26 310.64 L124.14 311.86 L124.25 312.45 L124.41 313.54 L124.45 314.01 L124.36 315.00 L124.41 315.37 L124.68 316.01 L124.56 317.24 L124.67 317.77 L124.82 318.37 L124.69 319.48 L124.82 320.43 L124.82 321.50 L124.93 321.80 L124.88 322.78 L125.10 323.93 L125.09 324.85 L125.17 325.31 L125.04 325.87 L125.19 326.68 L125.20 327.50 L125.29 328.93 L125.21 329.13 L125.23 329.76 L125.44 330.83 L125.40 332.22 L125.49 332.26 L125.39 333.98 L125.68 334.48 L125.62 334.99 L125.68 336.30 L125.75 336.48 L125.76 337.71 L125.85 338.54 L125.91 339.34 L125.73 339.69 L125.89 340.54 L126.04 341.94 L125.85 342.05 L126.06 343.24 L126.00 344.08 L126.15 344.70 L126.24 345.93 L126.14 346.47 L126.22 347.93 L126.25 348.05 L126.11 349.06 L126.24 349.54 L126.20 350.57 L126.22 351.80 L126.31 352.35 L126.40 352.73 L126.26 353.82 L126.30 354.89 L126.30 355.23 L126.38 356.06 L126.37 357.17 L126.55 357.84 L126.51 359.06 L126.61 359.32 L126.60 360.16 L126.53 361.61 L126.58 362.11 L126.68 363.18 L126.52 363.48 L126.59 364.87 L126.64 365.64 L126.77 365.92 L126.67 366.90 L126.84 368.28 L126.86 369.21 L126.71 369.50 L126.88 370.46 L126.87 371.47 L126.81 372.35 L126.90 373.03 L126.91 374.17 L127.03 374.66 L127.10 375.64 L126.98 376.51 L126.99 377.55 L127.10 378.13 L127.15 378.33 L127.15 379.16 L127.34 380.84 L127.30 381.06 L127.30 382.11 L127.37 382.49 L127.52 383.98 L127.52 384.58 L127.56 385.23 L127.62 386.40 L127.58 386.70 L127.63 387.43 L127.67 388.58 L127.66 389.44 L127.70 389.98 L127.73 391.26 L127.86 392.21 L127.84 392.55 L127.82 393.72 L127.91 394.52 L127.91 395.28 L127.95 396.08 L128.25 396.70 L128.46 397.71 L128.70 398.34 L128.93 399.18 L129.18 399.98 L129.44 401.01 L129.68 401.69 L129.90 402.49 L130.13 403.47 L130.37 404.31 L130.60 405.11 L131.40 405.47 L132.20 405.94 L133.00 406.34" fill="none" stroke="#000" stroke-width="2.00" stroke-linejoin="round"/>
<path d="M112.67 384.99 L112.70 384.18 L112.93 383.40 L112.79 382.64 L112.91 381.96 L113.01 381.39 L113.12 380.49 L113.29 380.09 L113.23 379.32 L113.47 378.68 L113.62 378.27 L113.62 378.12 L113.81 376.64 L113.80 376.79 L113.87 376.03 L114.13 375.70 L114.22 374.94 L114.16 373.65 L114.30 373.64 L114.16 372.61 L114.21 372.28 L114.25 371.77 L114.45 370.85 L114.51 369.84 L114.54 369.68 L114.75 369.54 L114.63 368.92 L114.73 367.27 L114.89 366.76 L114.76 366.30 L114.88 365.69 L114.94 365.60 L115.05 364.44 L114.95 363.50 L115.16 363.63 L115.00 362.29 L115.22 362.14 L115.20 360.91 L115.13 360.59 L115.24 359.83 L115.23 359.55 L115.50 359.09 L115.30 358.53 L115.52 357.85 L115.48 356.45 L115.70 356.58 L115.63 356.28 L115.79 355.23 L115.69 354.14 L115.82 353.33 L115.69 353.40 L115.83 352.22 L115.76 352.25 L115.91 351.10 L116.07 350.39 L116.13 350.31 L116.09 349.57 L116.08 348.50 L116.12 348.04 L116.27 346.96 L116.20 346.44 L116.26 346.73 L116.23 346.02 L116.31 344.90 L116.35 344.09 L116.53 343.60 L116.35 343.60 L116.52 342.60 L116.42 341.65 L116.55 340.96 L116.67 340.33 L116.63 339.69 L116.87 338.94 L116.92 338.45 L116.87 337.54 L116.92 337.37 L117.02 336.68 L116.81 336.13 L117.03 335.61 L117.10 334.45 L117.01 334.52 L117.06 333.06 L117.15 332.95 L117.19 331.69 L117.28 331.63 L117.38 330.76 L117.27 330.51 L117.51 329.48 L117.41 328.69 L117.49 328.15 L117.40 328.11 L117.42 326.74 L117.60 326.03 L117.78 325.83 L117.69 325.15 L117.65 324.00 L117.69 323.70 L117.79 323.64 L117.87 322.22 L117.81 321.61 L117.82 321.51 L117.97 321.06 L118.08 319.59 L118.15 320.03 L118.25 319.27 L118.17 317.98 L118.19 317.93 L118.24 317.59 L118.19 315.84 L118.22 315.72 L118.56 315.33 L118.61 315.10 L118.41 313.67 L118.69 312.84 L118.48 312.18 L118.79 312.34 L118.57 311.57 L118.86 310.33 L118.76 310.48 L118.81 310.20 L119.08 308.56 L118.96 307.82 L119.10 307.33 L119.05 307.07 L119.06 306.60 L119.33 306.39 L119.33 304.83 L119.40 304.25 L119.38 303.66 L119.42 303.22 L119.71 303.18 L119.74 301.61 L119.69 300.91 L119.93 300.51 L120.08 299.48 L119.97 299.03 L120.30 298.65 L120.31 297.90 L120.42 297.92 L120.44 296.48 L120.69 296.03 L120.70 295.39 L121.08 293.98 L121.18 294.07 L121.20 293.53 L121.51 292.17 L121.39 292.43 L121.68 291.53 L122.20 290.18 L122.71 291.43 L123.47 291.96 L123.63 293.21 L124.17 294.08 L124.18 294.24 L124.16 294.51 L124.51 296.05 L124.38 296.77 L124.56 297.12 L124.82 297.16 L124.63 297.61 L124.71 298.52 L124.92 299.18 L125.07 299.92 L124.89 300.48 L124.92 301.16 L125.02 301.89 L125.16 302.28 L125.13 303.42 L125.25 303.24 L125.32 304.13 L125.53 305.29 L125.50 305.85 L125.52 306.27 L125.45 306.17 L125.68 306.75 L125.51 307.94 L125.57 308.09 L125.70 308.97 L125.76 309.52 L125.84 310.03 L125.76 311.10 L125.96 311.68 L125.87 312.32 L126.14 312.33 L125.99 313.74 L126.05 313.65 L126.28 314.20 L126.16 315.02 L126.27 316.11 L126.31 316.76 L126.18 316.77 L126.36 317.45 L126.50 318.20 L126.45 318.51 L126.61 319.66 L126.45 320.27 L126.61 320.88 L126.62 320.88" fill="none" stroke="#000" stroke-width="0.90" stroke-linejoin="round"/>
<line x1="24.90" y1="270.50" x2="24.90" y2="406.90" stroke="#000" stroke-width="1.30"/>
<line x1="23.10" y1="270.50" x2="24.90" y2="270.50" stroke="#000" stroke-width="1.00"/>
<line x1="23.10" y1="304.60" x2="24.90" y2="304.60" stroke="#000" stroke-width="1.00"/>
<line x1="23.10" y1="338.70" x2="24.90" y2="338.70" stroke="#000" stroke-width="1.00"/>
<line x1="23.10" y1="372.80" x2="24.90" y2="372.80" stroke="#000" stroke-width="1.00"/>
<line x1="23.90" y1="406.90" x2="186.70" y2="406.90" stroke="#000" stroke-width="2.00"/>
<line x1="24.90" y1="406.90" x2="24.90" y2="409.50" stroke="#000" stroke-width="1.00"/>
<line x1="65.35" y1="406.90" x2="65.35" y2="409.50" stroke="#000" stroke-width="1.00"/>
<line x1="105.80" y1="406.90" x2="105.80" y2="409.50" stroke="#000" stroke-width="1.00"/>
<line x1="146.25" y1="406.90" x2="146.25" y2="409.50" stroke="#000" stroke-width="1.00"/>
<line x1="186.70" y1="406.90" x2="186.70" y2="409.50" stroke="#000" stroke-width="1.00"/>
<line x1="37.08" y1="406.90" x2="37.08" y2="408.50" stroke="#000" stroke-width="0.70"/>
<line x1="44.20" y1="406.90" x2="44.20" y2="408.50" stroke="#000" stroke-width="0.70"/>
<line x1="49.25" y1="406.90" x2="49.25" y2="408.50" stroke="#000" stroke-width="0.70"/>
<line x1="53.17" y1="406.90" x2="53.17" y2="408.50" stroke="#000" stroke-width="0.70"/>
<line x1="56.38" y1="406.90" x2="56.38" y2="408.50" stroke="#000" stroke-width="0.70"/>
<line x1="59.08" y1="406.90" x2="59.08" y2="408.50" stroke="#000" stroke-width="0.70"/>
<line x1="61.43" y1="406.90" x2="61.43" y2="408.50" stroke="#000" stroke-width="0.70"/>
<line x1="63.50" y1="406.90" x2="63.50" y2="408.50" stroke="#000" stroke-width="0.70"/>
<line x1="77.53" y1="406.90" x2="77.53" y2="408.50" stroke="#000" stroke-width="0.70"/>
<line x1="84.65" y1="406.90" x2="84.65" y2="408.50" stroke="#000" stroke-width="0.70"/>
<line x1="89.70" y1="406.90" x2="89.70" y2="408.50" stroke="#000" stroke-width="0.70"/>
<line x1="93.62" y1="406.90" x2="93.62" y2="408.50" stroke="#000" stroke-width="0.70"/>
<line x1="96.83" y1="406.90" x2="96.83" y2="408.50" stroke="#000" stroke-width="0.70"/>
<line x1="99.53" y1="406.90" x2="99.53" y2="408.50" stroke="#000" stroke-width="0.70"/>
<line x1="101.88" y1="406.90" x2="101.88" y2="408.50" stroke="#000" stroke-width="0.70"/>
<line x1="103.95" y1="406.90" x2="103.95" y2="408.50" stroke="#000" stroke-width="0.70"/>
<line x1="117.98" y1="406.90" x2="117.98" y2="408.50" stroke="#000" stroke-width="0.70"/>
<line x1="125.10" y1="406.90" x2="125.10" y2="408.50" stroke="#000" stroke-width="0.70"/>
<line x1="130.15" y1="406.90" x2="130.15" y2="408.50" stroke="#000" stroke-width="0.70"/>
<line x1="134.07" y1="406.90" x2="134.07" y2="408.50" stroke="#000" stroke-width="0.70"/>
<line x1="137.28" y1="406.90" x2="137.28" y2="408.50" stroke="#000" stroke-width="0.70"/>
<line x1="139.98" y1="406.90" x2="139.98" y2="408.50" stroke="#000" stroke-width="0.70"/>
<line x1="142.33" y1="406.90" x2="142.33" y2="408.50" stroke="#000" stroke-width="0.70"/>
<line x1="144.40" y1="406.90" x2="144.40" y2="408.50" stroke="#000" stroke-width="0.70"/>
<line x1="158.43" y1="406.90" x2="158.43" y2="408.50" stroke="#000" stroke-width="0.70"/>
<line x1="165.55" y1="406.90" x2="165.55" y2="408.50" stroke="#000" stroke-width="0.70"/>
<line x1="170.60" y1="406.90" x2="170.60" y2="408.50" stroke="#000" stroke-width="0.70"/>
<line x1="174.52" y1="406.90" x2="174.52" y2="408.50" stroke="#000" stroke-width="0.70"/>
<line x1="177.73" y1="406.90" x2="177.73" y2="408.50" stroke="#000" stroke-width="0.70"/>
<line x1="180.43" y1="406.90" x2="180.43" y2="408.50" stroke="#000" stroke-width="0.70"/>
<line x1="182.78" y1="406.90" x2="182.78" y2="408.50" stroke="#000" stroke-width="0.70"/>
<line x1="184.85" y1="406.90" x2="184.85" y2="408.50" stroke="#000" stroke-width="0.70"/>
<text x="20.80" y="270.60" font-size="10.00" text-anchor="middle" fill="#000" transform="rotate(-90 20.80 270.60)">119</text>
<text x="20.80" y="405.80" font-size="10.00" text-anchor="middle" fill="#000" transform="rotate(-90 20.80 405.80)">0</text>
<text x="10.80" y="336.90" font-size="11.50" text-anchor="middle" fill="#000" transform="rotate(-90 10.80 336.90)">Events</text>
<text x="39.30" y="293.00" font-size="11.50" fill="#000">CXCR2</text>
<text x="76.30" y="433.70" font-size="11.00" fill="#000" textLength="58.6" lengthAdjust="spacingAndGlyphs">FL1-Height</text>
<text x="20.60" y="419.80" font-size="10.50" fill="#000">10</text>
<text x="33.48" y="416.94" font-size="6.50" fill="#000">0</text>
<text x="60.80" y="419.80" font-size="10.50" fill="#000">10</text>
<text x="73.68" y="416.94" font-size="6.50" fill="#000">1</text>
<text x="101.20" y="419.80" font-size="10.50" fill="#000">10</text>
<text x="114.08" y="416.94" font-size="6.50" fill="#000">2</text>
<text x="140.80" y="419.80" font-size="10.50" fill="#000">10</text>
<text x="153.68" y="416.94" font-size="6.50" fill="#000">3</text>
<text x="182.00" y="419.80" font-size="10.50" fill="#000">10</text>
<text x="194.88" y="416.94" font-size="6.50" fill="#000">4</text>
<text x="121.40" y="285.80" font-size="9.50" fill="#000">1</text>
<text x="129.20" y="300.80" font-size="9.50" fill="#000">2</text>
<text x="88.80" y="327.70" font-size="9.50" fill="#000">3</text>
<text x="-0.60" y="467.30" font-size="28.00" font-weight="bold" fill="#000">E</text>
<path d="M74.00 593.82 L74.75 593.83 L75.50 593.63 L76.25 593.68 L76.81 593.36 L77.37 592.99 L78.12 592.40 L78.56 591.97 L78.99 591.29 L79.51 590.92 L80.00 590.26 L80.28 589.36 L80.56 588.96 L80.87 588.56 L81.14 587.47 L81.41 586.70 L81.63 586.10 L81.80 585.47 L81.93 584.81 L82.12 584.60 L82.30 583.98 L82.54 583.52 L82.70 582.82 L82.86 582.13 L83.00 581.27 L83.13 581.13 L83.39 580.61 L83.48 579.69 L83.65 579.09 L83.82 578.85 L83.93 577.53 L84.25 577.41 L84.33 576.62 L84.54 576.04 L84.69 575.11 L84.86 574.71 L84.93 573.73 L85.25 573.20 L85.35 572.53 L85.41 571.82 L85.74 570.97 L85.80 571.01 L86.04 570.30 L86.28 569.89 L86.46 568.78 L86.52 568.71 L86.66 568.05 L86.77 566.96 L86.92 566.88 L87.24 565.49 L87.33 565.61 L87.39 565.09 L87.65 563.91 L87.82 563.47 L88.06 562.52 L88.42 562.75 L88.49 562.00 L88.86 560.88 L89.06 560.53 L89.18 559.40 L89.57 559.59 L89.86 559.01 L90.19 557.93 L90.45 557.72 L90.94 556.78 L91.38 556.39 L92.11 555.87 L92.52 554.77 L93.59 554.89 L94.44 554.46 L95.61 554.03 L96.28 554.03 L97.02 552.47 L97.86 552.35 L98.72 553.12 L99.28 553.76 L100.08 553.24 L100.80 553.74 L101.17 554.17 L101.68 555.13 L101.76 555.97 L102.22 556.79 L102.45 557.52 L102.55 557.38 L102.82 558.06 L102.99 558.80 L103.17 559.50 L103.20 560.25 L103.45 561.01 L103.64 562.21 L103.89 562.50 L103.92 563.55 L104.18 563.80 L104.44 564.53 L104.52 564.71 L104.64 565.53 L104.85 565.65 L104.88 567.14 L105.19 567.07 L105.10 567.44 L105.43 567.99 L105.49 569.26 L105.55 569.79 L105.82 570.47 L105.97 571.02 L106.11 571.58 L106.32 571.93 L106.54 572.78 L106.71 573.90 L106.78 574.21 L107.00 574.78 L107.25 575.61 L107.33 575.80 L107.54 576.74 L107.71 577.63 L107.87 578.01 L108.06 578.62 L108.19 579.22 L108.39 579.49 L108.52 580.17 L108.76 581.11 L108.84 581.85 L109.08 582.09 L109.26 582.79 L109.46 583.53 L109.74 583.99 L109.90 584.83 L110.14 585.10 L110.28 586.00 L110.51 586.42 L110.73 587.21 L110.99 587.95 L111.27 588.27 L111.51 588.86 L111.84 589.55 L112.16 590.25 L112.50 591.15 L112.92 591.47 L113.33 591.92 L113.75 592.44 L114.50 592.86 L115.25 593.30 L116.00 593.90" fill="none" stroke="#000" stroke-width="1.00" stroke-linejoin="round"/>
<path d="M108.00 593.90 L108.20 593.84 L108.60 593.56 L109.20 593.19 L110.00 592.66 L110.77 591.93 L111.14 591.40 L111.52 591.04 L111.89 590.37 L112.24 589.72 L112.60 589.07 L112.95 588.29 L113.17 587.79 L113.40 587.15 L113.64 586.52 L113.83 585.78 L114.08 585.16 L114.29 584.53 L114.49 583.80 L114.71 582.89 L114.92 582.36 L115.06 581.48 L115.23 580.82 L115.43 580.40 L115.55 579.68 L115.68 579.02 L115.85 578.59 L115.94 577.72 L116.14 577.32 L116.21 576.68 L116.41 575.90 L116.53 575.26 L116.66 574.40 L116.70 573.66 L116.85 572.97 L116.98 572.65 L117.08 572.04 L117.18 571.21 L117.18 570.64 L117.27 570.09 L117.31 568.94 L117.40 568.44 L117.58 568.06 L117.52 566.97 L117.60 566.49 L117.77 565.84 L117.76 565.02 L117.82 564.76 L117.95 563.78 L118.00 563.42 L117.99 562.70 L118.11 562.05 L118.06 561.39 L118.14 560.55 L118.21 560.20 L118.29 559.43 L118.31 558.53 L118.35 558.03 L118.35 557.70 L118.36 557.15 L118.48 556.29 L118.52 555.47 L118.54 554.98 L118.52 554.51 L118.67 553.68 L118.73 552.91 L118.74 552.32 L118.75 551.64 L118.74 551.12 L118.85 550.62 L118.91 549.95 L118.95 549.20 L119.06 548.38 L119.10 547.59 L119.09 547.44 L119.17 546.77 L119.16 546.05 L119.21 545.26 L119.35 544.63 L119.32 544.04 L119.43 543.46 L119.45 542.83 L119.46 542.04 L119.51 541.27 L119.66 540.71 L119.61 540.19 L119.67 539.50 L119.77 538.96 L119.81 538.52 L119.86 537.91 L119.98 537.38 L120.06 536.21 L120.05 535.74 L120.19 535.05 L120.23 534.40 L120.28 533.96 L120.25 533.28 L120.40 533.04 L120.51 531.98 L120.45 531.80 L120.58 530.64 L120.66 530.08 L120.72 529.66 L120.79 529.09 L120.83 528.62 L120.85 527.85 L120.88 526.94 L120.96 526.74 L121.04 525.85 L121.14 525.33 L121.19 524.84 L121.29 523.90 L121.40 523.49 L121.46 522.59 L121.54 522.35 L121.52 521.19 L121.65 520.94 L121.66 519.81 L121.80 519.53 L121.80 518.73 L121.85 517.97 L121.99 517.23 L122.09 516.93 L122.12 516.08 L122.27 515.41 L122.27 514.88 L122.41 514.51 L122.51 513.94 L122.59 513.08 L122.76 512.42 L122.82 511.99 L122.87 510.92 L123.05 510.44 L123.13 509.43 L123.59 508.12 L124.05 508.68 L124.46 509.63 L124.53 510.10 L124.66 511.03 L124.86 511.75 L124.91 512.38 L125.07 512.75 L125.21 513.45 L125.31 514.20 L125.40 515.07 L125.42 515.54 L125.63 516.04 L125.61 516.59 L125.74 517.33 L125.79 518.20 L125.84 518.99 L126.01 519.57 L126.03 520.33 L126.24 520.89 L126.19 521.52 L126.40 522.31 L126.45 522.47 L126.41 523.09 L126.58 524.16 L126.64 524.90 L126.66 525.30 L126.84 526.00 L126.89 526.71 L126.94 527.10 L126.91 528.09 L127.00 528.80 L127.04 529.13 L127.12 530.09 L127.16 530.96 L127.34 531.55 L127.38 532.09 L127.45 532.92 L127.53 533.13 L127.55 533.87 L127.64 534.57 L127.69 535.12 L127.66 535.53 L127.75 536.49 L127.74 537.20 L127.88 537.81 L127.83 538.04 L128.00 538.94 L127.96 539.58 L128.07 540.15 L128.07 540.78 L128.18 541.46 L128.21 542.26 L128.22 542.61 L128.29 543.62 L128.36 544.37 L128.35 544.55 L128.35 545.36 L128.52 546.13 L128.43 546.92 L128.51 547.24 L128.56 548.25 L128.62 548.45 L128.59 549.13 L128.77 549.97 L128.77 550.71 L128.79 550.97 L128.86 551.93 L128.80 552.49 L128.87 553.45 L128.95 554.01 L128.97 554.70 L129.03 554.96 L129.13 555.87 L129.15 556.49 L129.20 557.11 L129.26 557.62 L129.17 558.72 L129.32 559.30 L129.26 559.83 L129.40 560.49 L129.47 561.06 L129.46 561.88 L129.42 562.51 L129.53 562.77 L129.64 563.55 L129.63 564.27 L129.73 564.90 L129.75 565.42 L129.74 566.18 L129.75 566.67 L129.83 567.12 L129.84 567.95 L129.94 568.73 L130.06 569.65 L130.13 570.15 L130.08 570.59 L130.16 571.44 L130.24 572.30 L130.29 572.92 L130.41 573.19 L130.43 574.18 L130.59 574.97 L130.66 575.53 L130.64 576.35 L130.79 576.94 L130.84 577.65 L130.95 578.27 L130.99 579.11 L131.11 579.62 L131.19 580.41 L131.29 580.75 L131.41 581.39 L131.49 582.29 L131.61 582.64 L131.73 583.38 L131.85 584.18 L131.98 584.84 L132.11 585.53 L132.29 586.27 L132.45 586.83 L132.64 587.70 L132.82 588.27 L132.99 588.87 L133.16 589.41 L133.45 590.09 L133.72 590.89 L133.97 591.35 L134.24 591.99 L134.75 592.66 L135.25 593.25 L135.63 593.48 L135.88 593.79 L136.00 593.90 L136.00 593.90 L108.00 593.90 Z" fill="#b0b0b0" stroke="#111" stroke-width="1.10" stroke-linejoin="round"/>
<path d="M94.00 593.88 L94.23 593.82 L94.69 593.56 L95.39 593.04 L96.31 592.55 L96.79 592.20 L97.28 591.76 L97.78 591.40 L98.28 590.90 L98.79 590.30 L99.31 589.59 L99.68 589.05 L100.02 588.69 L100.38 588.20 L100.75 587.53 L101.12 587.03 L101.51 586.49 L101.92 585.71 L102.28 585.03 L102.67 584.63 L103.00 583.95 L103.30 583.40 L103.61 582.88 L103.93 582.17 L104.20 581.63 L104.57 581.07 L104.87 580.54 L105.16 579.87 L105.46 579.29 L105.72 578.42 L106.06 577.79 L106.35 577.51 L106.54 576.55 L106.81 576.24 L107.08 575.21 L107.33 574.77 L107.52 574.01 L107.75 573.35 L107.97 572.77 L108.25 571.92 L108.40 571.08 L108.59 570.55 L108.74 570.02 L108.87 569.27 L109.12 568.18 L109.20 567.60 L109.45 567.20 L109.62 566.01 L109.80 565.48 L109.95 564.94 L109.95 564.54 L110.22 563.81 L110.24 563.38 L110.38 562.56 L110.56 561.76 L110.64 561.50 L110.86 560.78 L110.89 560.36 L111.12 559.22 L111.14 558.72 L111.28 558.35 L111.47 557.66 L111.56 556.75 L111.73 556.15 L111.78 555.55 L111.90 555.29 L112.06 554.44 L112.16 553.58 L112.42 553.33 L112.50 552.41 L112.65 551.55 L112.81 551.04 L112.94 550.38 L113.17 550.12 L113.22 549.17 L113.38 548.36 L113.66 547.65 L113.80 547.14 L114.09 546.60 L114.32 545.85 L114.52 544.97 L114.72 544.72 L114.99 543.35 L115.16 543.10 L115.53 542.38 L115.78 541.22 L116.29 540.66 L116.80 539.42 L117.13 538.79 L117.63 538.86 L118.05 538.12 L118.46 538.31 L118.96 538.61 L119.36 538.62 L119.90 538.98 L120.32 539.87 L120.67 541.02 L120.87 541.43 L121.05 542.01 L121.31 543.07 L121.39 543.58 L121.56 544.75 L121.80 545.23 L121.99 545.98 L122.09 546.37 L122.10 547.22 L122.32 547.74 L122.36 548.37 L122.49 548.95 L122.63 550.06 L122.69 550.56 L122.87 551.57 L122.87 552.12 L123.04 553.19 L123.13 553.69 L123.25 554.04 L123.38 554.98 L123.47 555.75 L123.56 556.29 L123.82 556.78 L123.85 557.39 L124.06 557.93 L124.09 558.87 L124.23 559.62 L124.39 560.53 L124.50 560.75 L124.71 561.46 L124.81 562.19 L124.88 563.19 L125.10 563.93 L125.28 564.81 L125.35 565.54 L125.46 565.94 L125.62 566.43 L125.74 567.65 L125.83 568.26 L125.98 568.66 L126.10 569.71 L126.20 570.28 L126.37 570.96 L126.44 571.77 L126.68 572.06 L126.72 572.84 L126.85 573.69 L126.98 574.32 L127.04 574.54 L127.25 575.57 L127.39 575.99 L127.47 577.06 L127.60 577.78 L127.70 578.14 L127.87 578.95 L127.97 579.61 L128.02 580.35 L128.15 580.88 L128.24 581.58 L128.39 582.27 L128.51 582.52 L128.63 583.31 L128.82 584.06 L128.99 585.09 L129.23 585.84 L129.46 586.88 L129.71 587.64 L129.95 588.53 L130.19 589.20 L130.46 589.93 L130.70 590.42 L130.95 591.04 L131.45 591.82 L131.95 592.26 L132.47 592.75 L133.01 593.05 L133.56 593.33 L134.14 593.52 L134.57 593.69 L134.86 593.83 L135.00 593.90" fill="none" stroke="#000" stroke-width="1.90" stroke-linejoin="round"/>
<line x1="24.90" y1="477.30" x2="24.90" y2="594.40" stroke="#000" stroke-width="1.30"/>
<line x1="23.10" y1="477.30" x2="24.90" y2="477.30" stroke="#000" stroke-width="1.00"/>
<line x1="23.10" y1="506.57" x2="24.90" y2="506.57" stroke="#000" stroke-width="1.00"/>
<line x1="23.10" y1="535.85" x2="24.90" y2="535.85" stroke="#000" stroke-width="1.00"/>
<line x1="23.10" y1="565.12" x2="24.90" y2="565.12" stroke="#000" stroke-width="1.00"/>
<line x1="23.90" y1="594.40" x2="189.20" y2="594.40" stroke="#000" stroke-width="2.00"/>
<line x1="24.90" y1="594.40" x2="24.90" y2="597.00" stroke="#000" stroke-width="1.00"/>
<line x1="65.97" y1="594.40" x2="65.97" y2="597.00" stroke="#000" stroke-width="1.00"/>
<line x1="107.05" y1="594.40" x2="107.05" y2="597.00" stroke="#000" stroke-width="1.00"/>
<line x1="148.12" y1="594.40" x2="148.12" y2="597.00" stroke="#000" stroke-width="1.00"/>
<line x1="189.20" y1="594.40" x2="189.20" y2="597.00" stroke="#000" stroke-width="1.00"/>
<line x1="37.26" y1="594.40" x2="37.26" y2="596.00" stroke="#000" stroke-width="0.70"/>
<line x1="44.50" y1="594.40" x2="44.50" y2="596.00" stroke="#000" stroke-width="0.70"/>
<line x1="49.63" y1="594.40" x2="49.63" y2="596.00" stroke="#000" stroke-width="0.70"/>
<line x1="53.61" y1="594.40" x2="53.61" y2="596.00" stroke="#000" stroke-width="0.70"/>
<line x1="56.86" y1="594.40" x2="56.86" y2="596.00" stroke="#000" stroke-width="0.70"/>
<line x1="59.61" y1="594.40" x2="59.61" y2="596.00" stroke="#000" stroke-width="0.70"/>
<line x1="61.99" y1="594.40" x2="61.99" y2="596.00" stroke="#000" stroke-width="0.70"/>
<line x1="64.10" y1="594.40" x2="64.10" y2="596.00" stroke="#000" stroke-width="0.70"/>
<line x1="78.34" y1="594.40" x2="78.34" y2="596.00" stroke="#000" stroke-width="0.70"/>
<line x1="85.57" y1="594.40" x2="85.57" y2="596.00" stroke="#000" stroke-width="0.70"/>
<line x1="90.70" y1="594.40" x2="90.70" y2="596.00" stroke="#000" stroke-width="0.70"/>
<line x1="94.69" y1="594.40" x2="94.69" y2="596.00" stroke="#000" stroke-width="0.70"/>
<line x1="97.94" y1="594.40" x2="97.94" y2="596.00" stroke="#000" stroke-width="0.70"/>
<line x1="100.69" y1="594.40" x2="100.69" y2="596.00" stroke="#000" stroke-width="0.70"/>
<line x1="103.07" y1="594.40" x2="103.07" y2="596.00" stroke="#000" stroke-width="0.70"/>
<line x1="105.17" y1="594.40" x2="105.17" y2="596.00" stroke="#000" stroke-width="0.70"/>
<line x1="119.41" y1="594.40" x2="119.41" y2="596.00" stroke="#000" stroke-width="0.70"/>
<line x1="126.65" y1="594.40" x2="126.65" y2="596.00" stroke="#000" stroke-width="0.70"/>
<line x1="131.78" y1="594.40" x2="131.78" y2="596.00" stroke="#000" stroke-width="0.70"/>
<line x1="135.76" y1="594.40" x2="135.76" y2="596.00" stroke="#000" stroke-width="0.70"/>
<line x1="139.01" y1="594.40" x2="139.01" y2="596.00" stroke="#000" stroke-width="0.70"/>
<line x1="141.76" y1="594.40" x2="141.76" y2="596.00" stroke="#000" stroke-width="0.70"/>
<line x1="144.14" y1="594.40" x2="144.14" y2="596.00" stroke="#000" stroke-width="0.70"/>
<line x1="146.25" y1="594.40" x2="146.25" y2="596.00" stroke="#000" stroke-width="0.70"/>
<line x1="160.49" y1="594.40" x2="160.49" y2="596.00" stroke="#000" stroke-width="0.70"/>
<line x1="167.72" y1="594.40" x2="167.72" y2="596.00" stroke="#000" stroke-width="0.70"/>
<line x1="172.85" y1="594.40" x2="172.85" y2="596.00" stroke="#000" stroke-width="0.70"/>
<line x1="176.84" y1="594.40" x2="176.84" y2="596.00" stroke="#000" stroke-width="0.70"/>
<line x1="180.09" y1="594.40" x2="180.09" y2="596.00" stroke="#000" stroke-width="0.70"/>
<line x1="182.84" y1="594.40" x2="182.84" y2="596.00" stroke="#000" stroke-width="0.70"/>
<line x1="185.22" y1="594.40" x2="185.22" y2="596.00" stroke="#000" stroke-width="0.70"/>
<line x1="187.32" y1="594.40" x2="187.32" y2="596.00" stroke="#000" stroke-width="0.70"/>
<text x="20.60" y="477.80" font-size="9.00" text-anchor="middle" fill="#000" transform="rotate(-90 20.60 477.80)">221</text>
<text x="20.60" y="595.40" font-size="9.00" text-anchor="middle" fill="#000" transform="rotate(-90 20.60 595.40)">0</text>
<text x="12.90" y="537.30" font-size="10.00" text-anchor="middle" fill="#000" transform="rotate(-90 12.90 537.30)">Events</text>
<text x="38.60" y="504.30" font-size="11.50" fill="#000">CXCR1</text>
<text x="82.90" y="618.60" font-size="9.20" fill="#000">FL1-Height</text>
<text x="20.20" y="606.80" font-size="8.70" fill="#000">10</text>
<text x="30.67" y="603.31" font-size="5.50" fill="#000">0</text>
<text x="61.00" y="606.80" font-size="8.70" fill="#000">10</text>
<text x="71.47" y="603.31" font-size="5.50" fill="#000">1</text>
<text x="104.40" y="606.80" font-size="8.70" fill="#000">10</text>
<text x="114.87" y="603.31" font-size="5.50" fill="#000">2</text>
<text x="144.80" y="606.80" font-size="8.70" fill="#000">10</text>
<text x="155.27" y="603.31" font-size="5.50" fill="#000">3</text>
<text x="185.20" y="606.80" font-size="8.70" fill="#000">10</text>
<text x="195.67" y="603.31" font-size="5.50" fill="#000">4</text>
<text x="130.20" y="508.30" font-size="8.50" fill="#000">1</text>
<text x="107.70" y="536.60" font-size="8.50" fill="#000">3</text>
<text x="86.70" y="552.00" font-size="8.50" fill="#000">2</text>
<text x="-0.60" y="644.00" font-size="27.00" font-weight="bold" fill="#000">F</text>
<path d="M61.00 773.00 L61.19 772.98 L61.56 772.73 L62.13 772.44 L62.88 772.02 L63.68 771.56 L64.56 770.77 L65.04 770.26 L65.49 769.70 L66.00 769.38 L66.49 768.60 L66.99 767.97 L67.42 767.25 L67.88 766.59 L68.33 765.95 L68.56 765.13 L68.89 764.73 L69.14 763.80 L69.39 763.49 L69.65 762.54 L69.85 762.11 L70.09 761.40 L70.34 760.43 L70.58 759.90 L70.86 759.39 L71.11 758.89 L71.32 758.24 L71.46 757.17 L71.72 756.68 L71.88 756.03 L72.21 755.05 L72.38 754.62 L72.55 753.61 L72.79 753.44 L72.93 752.78 L73.24 751.69 L73.45 750.93 L73.53 750.27 L73.90 749.17 L73.91 748.59 L74.17 748.17 L74.28 748.00 L74.50 747.12 L74.57 746.33 L74.78 745.99 L74.83 744.92 L75.11 744.39 L75.32 744.23 L75.34 743.69 L75.64 743.09 L75.61 742.15 L75.83 741.59 L75.95 740.84 L76.28 740.21 L76.39 739.56 L76.53 738.92 L76.78 738.65 L77.04 737.37 L77.29 737.03 L77.50 736.41 L77.79 735.39 L78.01 734.66 L78.12 733.97 L78.47 733.01 L78.71 732.88 L78.85 732.21 L79.11 731.17 L79.32 730.29 L79.60 729.46 L79.89 728.85 L80.18 728.42 L80.54 727.37 L80.85 727.09 L81.15 725.94 L81.41 726.04 L81.89 724.96 L82.18 724.58 L82.98 724.07 L83.72 723.20 L84.56 723.44 L85.30 724.08 L85.55 724.40 L85.95 725.41 L86.38 726.06 L86.57 726.62 L86.86 727.04 L87.08 727.87 L87.21 728.25 L87.58 729.29 L87.84 729.97 L87.96 730.93 L88.08 731.73 L88.37 732.23 L88.43 732.83 L88.64 733.11 L88.75 733.82 L89.02 734.74 L89.08 735.48 L89.19 736.26 L89.41 736.51 L89.46 737.27 L89.72 737.78 L89.83 738.27 L90.01 738.73 L90.02 739.85 L90.24 740.71 L90.26 740.59 L90.53 741.54 L90.46 741.86 L90.58 742.61 L90.80 743.29 L90.84 743.91 L91.09 744.18 L91.15 745.11 L91.32 745.74 L91.47 746.67 L91.51 747.12 L91.58 747.26 L91.71 748.41 L92.05 748.95 L92.13 749.54 L92.41 750.39 L92.57 751.35 L92.73 751.66 L92.86 752.72 L93.10 753.70 L93.28 754.49 L93.42 755.22 L93.66 755.71 L93.76 756.35 L94.04 757.14 L94.14 757.98 L94.34 758.38 L94.61 759.04 L94.73 759.73 L94.94 760.31 L95.12 761.16 L95.32 761.56 L95.58 762.23 L95.78 762.83 L96.00 763.42 L96.22 764.11 L96.39 764.80 L96.67 765.27 L96.89 766.04 L97.13 766.57 L97.35 767.20 L97.62 767.82 L97.88 768.48 L98.24 769.18 L98.63 769.88 L99.01 770.48 L99.38 770.97 L100.12 771.85 L100.88 772.32 L101.44 772.73 L101.81 773.04 L102.00 773.05" fill="none" stroke="#000" stroke-width="1.00" stroke-linejoin="round"/>
<path d="M101.00 773.10 L101.21 773.02 L101.64 772.73 L102.27 772.38 L103.13 771.81 L103.90 770.89 L104.24 770.27 L104.58 769.73 L104.88 768.77 L105.17 768.00 L105.37 767.36 L105.55 766.65 L105.71 766.12 L105.87 765.30 L106.08 764.36 L106.22 763.67 L106.37 763.24 L106.48 762.35 L106.60 761.75 L106.75 761.03 L106.86 760.44 L106.97 759.70 L107.15 758.93 L107.26 758.53 L107.32 757.66 L107.43 757.04 L107.53 756.40 L107.62 755.85 L107.75 755.45 L107.82 754.76 L107.95 754.20 L107.95 753.48 L108.07 752.97 L108.12 752.53 L108.19 751.99 L108.33 751.12 L108.47 750.31 L108.45 749.84 L108.60 749.03 L108.61 748.07 L108.78 747.72 L108.81 746.97 L108.86 746.33 L109.03 745.89 L108.96 744.99 L109.15 744.27 L109.12 743.56 L109.28 742.81 L109.28 742.42 L109.41 741.77 L109.49 741.33 L109.55 740.36 L109.62 740.01 L109.64 739.25 L109.74 738.46 L109.78 737.88 L109.75 737.00 L109.89 736.38 L109.89 735.92 L110.07 735.05 L110.13 734.34 L110.14 734.12 L110.21 733.61 L110.32 732.38 L110.37 731.99 L110.32 731.60 L110.37 730.51 L110.54 730.32 L110.50 729.36 L110.67 728.81 L110.74 728.40 L110.79 727.91 L110.74 727.20 L110.93 726.09 L110.91 725.83 L110.97 724.91 L111.06 724.42 L111.08 723.86 L111.14 723.02 L111.19 722.43 L111.26 721.99 L111.38 721.61 L111.46 720.79 L111.43 720.04 L111.54 719.33 L111.59 718.89 L111.74 718.25 L111.74 717.46 L111.78 717.04 L111.84 716.61 L111.89 715.57 L111.99 715.49 L112.15 714.34 L112.21 714.02 L112.25 713.20 L112.24 712.36 L112.35 712.14 L112.40 711.47 L112.42 710.86 L112.50 710.04 L112.68 709.12 L112.74 708.55 L112.80 707.75 L112.86 707.41 L112.94 706.30 L113.03 706.02 L113.04 705.10 L113.16 704.27 L113.14 703.68 L113.20 702.99 L113.31 702.58 L113.38 701.74 L113.42 701.37 L113.56 700.28 L113.71 700.03 L113.67 699.17 L113.89 698.70 L113.90 698.06 L113.99 697.09 L114.14 696.74 L114.15 695.96 L114.25 695.26 L114.29 694.80 L114.50 694.03 L114.52 693.18 L114.73 692.51 L115.07 691.43 L115.41 691.81 L115.64 692.81 L115.84 693.31 L115.92 693.91 L116.08 695.00 L116.04 695.28 L116.15 695.69 L116.23 696.59 L116.37 697.36 L116.48 697.89 L116.53 698.37 L116.57 699.04 L116.72 699.56 L116.70 700.74 L116.79 701.35 L116.91 701.88 L117.01 702.89 L117.07 703.28 L117.13 703.74 L117.16 704.25 L117.34 705.16 L117.34 705.85 L117.38 706.73 L117.49 707.08 L117.65 707.61 L117.59 708.62 L117.77 708.98 L117.75 709.72 L117.81 710.30 L117.86 711.10 L117.88 711.73 L118.01 712.32 L118.11 712.82 L118.14 713.86 L118.12 714.23 L118.19 715.04 L118.28 715.44 L118.35 716.14 L118.31 717.16 L118.39 717.71 L118.51 718.16 L118.50 719.16 L118.55 719.67 L118.57 720.41 L118.60 720.87 L118.75 721.44 L118.80 722.27 L118.79 722.68 L118.88 723.36 L118.93 723.97 L119.01 724.68 L119.05 725.23 L119.03 725.93 L119.07 726.59 L119.20 727.23 L119.25 727.90 L119.24 728.40 L119.31 728.79 L119.31 729.77 L119.42 729.99 L119.39 731.03 L119.42 731.19 L119.58 732.06 L119.62 732.50 L119.58 733.01 L119.71 733.93 L119.75 734.52 L119.76 735.06 L119.75 735.78 L119.85 736.21 L119.88 737.10 L120.05 737.48 L120.01 738.34 L120.11 739.04 L120.14 739.68 L120.12 740.17 L120.22 740.68 L120.27 741.19 L120.31 742.18 L120.38 742.33 L120.38 742.98 L120.52 744.03 L120.58 744.11 L120.63 744.80 L120.76 745.87 L120.79 746.15 L120.75 746.81 L120.92 747.37 L120.97 748.19 L120.98 748.91 L121.10 749.34 L121.17 750.07 L121.16 750.63 L121.26 750.96 L121.29 751.42 L121.35 752.25 L121.49 752.85 L121.50 753.60 L121.68 754.54 L121.73 754.95 L121.76 755.58 L121.90 756.24 L122.01 757.04 L122.10 757.70 L122.18 758.40 L122.24 758.75 L122.39 759.62 L122.53 760.19 L122.63 760.90 L122.76 761.33 L122.93 762.24 L123.01 762.58 L123.25 763.43 L123.44 764.27 L123.60 764.73 L123.81 765.64 L124.05 766.11 L124.25 766.62 L124.48 767.44 L124.68 768.03 L124.96 768.58 L125.21 769.11 L125.46 769.92 L125.82 770.57 L126.16 771.16 L126.75 772.15 L127.25 772.58 L127.62 772.80 L127.88 773.04 L128.00 773.10 L128.00 773.10 L101.00 773.10 Z" fill="#b0b0b0" stroke="#111" stroke-width="1.10" stroke-linejoin="round"/>
<path d="M76.00 773.10 L76.25 773.07 L76.75 772.86 L77.50 772.70 L78.50 772.45 L79.51 772.11 L80.54 771.92 L81.57 771.67 L82.62 771.46 L83.65 770.85 L84.15 770.28 L84.64 769.84 L85.13 769.31 L85.61 768.67 L86.09 768.08 L86.56 767.16 L86.88 766.84 L87.19 766.30 L87.47 765.69 L87.75 765.11 L88.07 764.63 L88.34 764.06 L88.61 763.63 L88.86 762.99 L89.12 762.24 L89.37 761.92 L89.61 761.27 L89.85 760.66 L90.14 760.15 L90.38 759.26 L90.64 758.70 L90.81 758.14 L91.09 757.85 L91.32 756.87 L91.52 756.64 L91.76 756.01 L92.00 755.27 L92.23 754.49 L92.48 754.11 L92.65 753.52 L92.88 752.88 L93.07 752.36 L93.28 751.62 L93.53 750.76 L93.78 749.95 L93.89 749.40 L94.13 748.83 L94.29 747.75 L94.39 747.55 L94.51 746.98 L94.67 746.05 L94.82 745.59 L95.07 744.57 L95.13 744.00 L95.21 743.56 L95.41 743.02 L95.55 742.23 L95.57 741.85 L95.76 741.30 L95.92 740.52 L96.06 739.95 L96.10 738.85 L96.25 738.27 L96.43 737.49 L96.52 737.04 L96.60 736.58 L96.76 735.77 L96.94 735.26 L96.93 734.63 L97.10 734.02 L97.26 733.24 L97.42 732.45 L97.48 731.87 L97.56 731.31 L97.82 730.50 L97.86 729.71 L98.01 729.42 L98.20 728.65 L98.28 728.11 L98.35 727.14 L98.51 726.70 L98.66 725.84 L98.87 725.32 L99.04 724.26 L99.16 723.55 L99.41 722.97 L99.52 722.45 L99.74 721.59 L99.98 721.15 L100.19 720.37 L100.53 719.36 L100.65 718.89 L101.14 717.78 L101.54 716.93 L101.87 716.92 L102.29 716.39 L102.75 716.52 L103.02 717.24 L103.37 718.39 L103.59 719.18 L103.78 719.96 L103.97 720.86 L104.06 721.40 L104.21 721.71 L104.28 722.62 L104.52 723.05 L104.52 723.75 L104.64 724.69 L104.77 725.13 L104.79 725.70 L104.92 726.41 L105.11 727.12 L105.18 727.42 L105.19 728.49 L105.41 728.81 L105.42 729.88 L105.62 730.20 L105.63 730.81 L105.75 731.55 L105.84 732.41 L106.08 732.95 L106.11 733.77 L106.30 734.31 L106.33 735.16 L106.47 735.53 L106.61 736.28 L106.66 736.78 L106.77 737.79 L106.94 738.52 L106.91 739.02 L107.09 739.81 L107.18 740.11 L107.28 740.56 L107.41 741.33 L107.52 742.36 L107.71 742.71 L107.87 743.31 L107.95 743.93 L108.03 744.72 L108.23 745.71 L108.34 746.31 L108.45 746.95 L108.65 747.47 L108.76 748.58 L108.94 749.19 L109.04 749.81 L109.20 750.59 L109.40 751.22 L109.54 751.99 L109.66 752.74 L109.83 753.09 L109.97 753.91 L110.09 754.36 L110.24 755.23 L110.38 755.92 L110.53 756.46 L110.59 757.15 L110.74 757.86 L110.88 758.13 L111.05 758.97 L111.15 759.46 L111.41 760.22 L111.58 761.04 L111.77 761.85 L112.03 762.36 L112.21 763.11 L112.46 764.10 L112.70 764.59 L112.96 765.36 L113.21 766.17 L113.47 766.77 L113.72 767.65 L114.01 768.39 L114.26 768.90 L114.53 769.52 L114.77 769.99 L115.15 770.57 L115.53 771.31 L116.25 772.11 L116.95 772.53 L117.47 772.73 L117.83 773.05 L118.00 773.05" fill="none" stroke="#000" stroke-width="1.90" stroke-linejoin="round"/>
<line x1="25.10" y1="656.20" x2="25.10" y2="773.60" stroke="#000" stroke-width="1.30"/>
<line x1="23.30" y1="656.20" x2="25.10" y2="656.20" stroke="#000" stroke-width="1.00"/>
<line x1="23.30" y1="685.55" x2="25.10" y2="685.55" stroke="#000" stroke-width="1.00"/>
<line x1="23.30" y1="714.90" x2="25.10" y2="714.90" stroke="#000" stroke-width="1.00"/>
<line x1="23.30" y1="744.25" x2="25.10" y2="744.25" stroke="#000" stroke-width="1.00"/>
<line x1="24.10" y1="773.60" x2="186.50" y2="773.60" stroke="#000" stroke-width="2.00"/>
<line x1="25.10" y1="773.60" x2="25.10" y2="776.20" stroke="#000" stroke-width="1.00"/>
<line x1="65.45" y1="773.60" x2="65.45" y2="776.20" stroke="#000" stroke-width="1.00"/>
<line x1="105.80" y1="773.60" x2="105.80" y2="776.20" stroke="#000" stroke-width="1.00"/>
<line x1="146.15" y1="773.60" x2="146.15" y2="776.20" stroke="#000" stroke-width="1.00"/>
<line x1="186.50" y1="773.60" x2="186.50" y2="776.20" stroke="#000" stroke-width="1.00"/>
<line x1="37.25" y1="773.60" x2="37.25" y2="775.20" stroke="#000" stroke-width="0.70"/>
<line x1="44.35" y1="773.60" x2="44.35" y2="775.20" stroke="#000" stroke-width="0.70"/>
<line x1="49.39" y1="773.60" x2="49.39" y2="775.20" stroke="#000" stroke-width="0.70"/>
<line x1="53.30" y1="773.60" x2="53.30" y2="775.20" stroke="#000" stroke-width="0.70"/>
<line x1="56.50" y1="773.60" x2="56.50" y2="775.20" stroke="#000" stroke-width="0.70"/>
<line x1="59.20" y1="773.60" x2="59.20" y2="775.20" stroke="#000" stroke-width="0.70"/>
<line x1="61.54" y1="773.60" x2="61.54" y2="775.20" stroke="#000" stroke-width="0.70"/>
<line x1="63.60" y1="773.60" x2="63.60" y2="775.20" stroke="#000" stroke-width="0.70"/>
<line x1="77.60" y1="773.60" x2="77.60" y2="775.20" stroke="#000" stroke-width="0.70"/>
<line x1="84.70" y1="773.60" x2="84.70" y2="775.20" stroke="#000" stroke-width="0.70"/>
<line x1="89.74" y1="773.60" x2="89.74" y2="775.20" stroke="#000" stroke-width="0.70"/>
<line x1="93.65" y1="773.60" x2="93.65" y2="775.20" stroke="#000" stroke-width="0.70"/>
<line x1="96.85" y1="773.60" x2="96.85" y2="775.20" stroke="#000" stroke-width="0.70"/>
<line x1="99.55" y1="773.60" x2="99.55" y2="775.20" stroke="#000" stroke-width="0.70"/>
<line x1="101.89" y1="773.60" x2="101.89" y2="775.20" stroke="#000" stroke-width="0.70"/>
<line x1="103.95" y1="773.60" x2="103.95" y2="775.20" stroke="#000" stroke-width="0.70"/>
<line x1="117.95" y1="773.60" x2="117.95" y2="775.20" stroke="#000" stroke-width="0.70"/>
<line x1="125.05" y1="773.60" x2="125.05" y2="775.20" stroke="#000" stroke-width="0.70"/>
<line x1="130.09" y1="773.60" x2="130.09" y2="775.20" stroke="#000" stroke-width="0.70"/>
<line x1="134.00" y1="773.60" x2="134.00" y2="775.20" stroke="#000" stroke-width="0.70"/>
<line x1="137.20" y1="773.60" x2="137.20" y2="775.20" stroke="#000" stroke-width="0.70"/>
<line x1="139.90" y1="773.60" x2="139.90" y2="775.20" stroke="#000" stroke-width="0.70"/>
<line x1="142.24" y1="773.60" x2="142.24" y2="775.20" stroke="#000" stroke-width="0.70"/>
<line x1="144.30" y1="773.60" x2="144.30" y2="775.20" stroke="#000" stroke-width="0.70"/>
<line x1="158.30" y1="773.60" x2="158.30" y2="775.20" stroke="#000" stroke-width="0.70"/>
<line x1="165.40" y1="773.60" x2="165.40" y2="775.20" stroke="#000" stroke-width="0.70"/>
<line x1="170.44" y1="773.60" x2="170.44" y2="775.20" stroke="#000" stroke-width="0.70"/>
<line x1="174.35" y1="773.60" x2="174.35" y2="775.20" stroke="#000" stroke-width="0.70"/>
<line x1="177.55" y1="773.60" x2="177.55" y2="775.20" stroke="#000" stroke-width="0.70"/>
<line x1="180.25" y1="773.60" x2="180.25" y2="775.20" stroke="#000" stroke-width="0.70"/>
<line x1="182.59" y1="773.60" x2="182.59" y2="775.20" stroke="#000" stroke-width="0.70"/>
<line x1="184.65" y1="773.60" x2="184.65" y2="775.20" stroke="#000" stroke-width="0.70"/>
<text x="20.40" y="656.70" font-size="9.00" text-anchor="middle" fill="#000" transform="rotate(-90 20.40 656.70)">194</text>
<text x="19.00" y="774.50" font-size="9.00" text-anchor="middle" fill="#000" transform="rotate(-90 19.00 774.50)">0</text>
<text x="11.90" y="716.40" font-size="10.00" text-anchor="middle" fill="#000" transform="rotate(-90 11.90 716.40)">Events</text>
<text x="38.70" y="678.80" font-size="11.50" fill="#000">CXCR2</text>
<text x="81.50" y="800.00" font-size="9.20" fill="#000">FL1-Height</text>
<text x="19.40" y="785.60" font-size="8.70" fill="#000">10</text>
<text x="29.87" y="782.11" font-size="5.50" fill="#000">0</text>
<text x="60.00" y="785.60" font-size="8.70" fill="#000">10</text>
<text x="70.47" y="782.11" font-size="5.50" fill="#000">1</text>
<text x="103.60" y="785.60" font-size="8.70" fill="#000">10</text>
<text x="114.07" y="782.11" font-size="5.50" fill="#000">2</text>
<text x="142.90" y="785.60" font-size="8.70" fill="#000">10</text>
<text x="153.37" y="782.11" font-size="5.50" fill="#000">3</text>
<text x="181.20" y="785.60" font-size="8.70" fill="#000">10</text>
<text x="191.67" y="782.11" font-size="5.50" fill="#000">4</text>
<text x="122.40" y="685.60" font-size="8.50" fill="#000">1</text>
<text x="103.40" y="709.00" font-size="8.50" fill="#000">3</text>
<text x="75.10" y="721.20" font-size="8.50" fill="#000">2</text>
<text x="239.20" y="20.90" font-size="28.00" font-weight="bold" fill="#000">C</text>
<line x1="307.22" y1="54.52" x2="307.22" y2="51.26" stroke="#000" stroke-width="1.10"/>
<line x1="304.47" y1="51.26" x2="309.97" y2="51.26" stroke="#000" stroke-width="1.10"/>
<line x1="319.52" y1="89.37" x2="319.52" y2="85.65" stroke="#000" stroke-width="1.10"/>
<line x1="316.77" y1="85.65" x2="322.27" y2="85.65" stroke="#000" stroke-width="1.10"/>
<rect x="300.92" y="54.52" width="12.60" height="127.78" fill="#000"/>
<rect x="314.02" y="89.87" width="11.60" height="92.43" fill="#fff" stroke="#000" stroke-width="1.10"/>
<line x1="350.46" y1="104.24" x2="350.46" y2="101.91" stroke="#000" stroke-width="1.10"/>
<line x1="347.71" y1="101.91" x2="353.21" y2="101.91" stroke="#000" stroke-width="1.10"/>
<line x1="362.76" y1="136.30" x2="362.76" y2="131.65" stroke="#000" stroke-width="1.10"/>
<line x1="360.01" y1="131.65" x2="365.51" y2="131.65" stroke="#000" stroke-width="1.10"/>
<rect x="344.16" y="104.24" width="12.60" height="78.06" fill="#000"/>
<rect x="357.26" y="136.80" width="11.60" height="45.50" fill="#fff" stroke="#000" stroke-width="1.10"/>
<line x1="393.70" y1="119.11" x2="393.70" y2="116.32" stroke="#000" stroke-width="1.10"/>
<line x1="390.95" y1="116.32" x2="396.45" y2="116.32" stroke="#000" stroke-width="1.10"/>
<line x1="406.00" y1="160.93" x2="406.00" y2="160.00" stroke="#000" stroke-width="1.10"/>
<line x1="403.25" y1="160.00" x2="408.75" y2="160.00" stroke="#000" stroke-width="1.10"/>
<rect x="387.40" y="119.11" width="12.60" height="63.19" fill="#000"/>
<rect x="400.50" y="161.43" width="11.60" height="20.87" fill="#fff" stroke="#000" stroke-width="1.10"/>
<line x1="436.94" y1="135.37" x2="436.94" y2="131.65" stroke="#000" stroke-width="1.10"/>
<line x1="434.19" y1="131.65" x2="439.69" y2="131.65" stroke="#000" stroke-width="1.10"/>
<line x1="449.24" y1="155.81" x2="449.24" y2="155.58" stroke="#000" stroke-width="1.10"/>
<line x1="446.49" y1="155.58" x2="451.99" y2="155.58" stroke="#000" stroke-width="1.10"/>
<rect x="430.64" y="135.37" width="12.60" height="46.93" fill="#000"/>
<rect x="443.74" y="156.31" width="11.60" height="25.99" fill="#fff" stroke="#000" stroke-width="1.10"/>
<line x1="480.18" y1="135.37" x2="480.18" y2="133.51" stroke="#000" stroke-width="1.10"/>
<line x1="477.43" y1="133.51" x2="482.93" y2="133.51" stroke="#000" stroke-width="1.10"/>
<line x1="492.48" y1="155.81" x2="492.48" y2="152.56" stroke="#000" stroke-width="1.10"/>
<line x1="489.73" y1="152.56" x2="495.23" y2="152.56" stroke="#000" stroke-width="1.10"/>
<rect x="473.88" y="135.37" width="12.60" height="46.93" fill="#000"/>
<rect x="486.98" y="156.31" width="11.60" height="25.99" fill="#fff" stroke="#000" stroke-width="1.10"/>
<line x1="291.90" y1="42.90" x2="508.10" y2="42.90" stroke="#000" stroke-width="1.40"/>
<line x1="508.10" y1="42.90" x2="508.10" y2="182.30" stroke="#000" stroke-width="1.40"/>
<line x1="291.90" y1="42.90" x2="291.90" y2="182.90" stroke="#000" stroke-width="1.40"/>
<line x1="291.20" y1="182.30" x2="508.70" y2="182.30" stroke="#000" stroke-width="1.60"/>
<line x1="288.70" y1="182.30" x2="291.90" y2="182.30" stroke="#000" stroke-width="1.10"/>
<text x="285.90" y="187.40" font-size="13.50" text-anchor="end" fill="#000">0</text>
<line x1="288.70" y1="159.07" x2="291.90" y2="159.07" stroke="#000" stroke-width="1.10"/>
<text x="285.90" y="164.17" font-size="13.50" text-anchor="end" fill="#000">50</text>
<line x1="288.70" y1="135.83" x2="291.90" y2="135.83" stroke="#000" stroke-width="1.10"/>
<text x="285.90" y="140.93" font-size="13.50" text-anchor="end" fill="#000">100</text>
<line x1="288.70" y1="112.60" x2="291.90" y2="112.60" stroke="#000" stroke-width="1.10"/>
<text x="285.90" y="117.70" font-size="13.50" text-anchor="end" fill="#000">150</text>
<line x1="288.70" y1="89.37" x2="291.90" y2="89.37" stroke="#000" stroke-width="1.10"/>
<text x="285.90" y="94.47" font-size="13.50" text-anchor="end" fill="#000">200</text>
<line x1="288.70" y1="66.13" x2="291.90" y2="66.13" stroke="#000" stroke-width="1.10"/>
<text x="285.90" y="71.23" font-size="13.50" text-anchor="end" fill="#000">250</text>
<line x1="288.70" y1="42.90" x2="291.90" y2="42.90" stroke="#000" stroke-width="1.10"/>
<text x="285.90" y="48.00" font-size="13.50" text-anchor="end" fill="#000">300</text>
<line x1="291.90" y1="182.30" x2="291.90" y2="185.50" stroke="#000" stroke-width="1.10"/>
<line x1="335.14" y1="182.30" x2="335.14" y2="185.50" stroke="#000" stroke-width="1.10"/>
<line x1="378.38" y1="182.30" x2="378.38" y2="185.50" stroke="#000" stroke-width="1.10"/>
<line x1="421.62" y1="182.30" x2="421.62" y2="185.50" stroke="#000" stroke-width="1.10"/>
<line x1="464.86" y1="182.30" x2="464.86" y2="185.50" stroke="#000" stroke-width="1.10"/>
<line x1="508.10" y1="182.30" x2="508.10" y2="185.50" stroke="#000" stroke-width="1.10"/>
<text x="310.50" y="204.80" font-size="13.00" text-anchor="middle" fill="#000">0:1</text>
<text x="357.40" y="204.80" font-size="13.00" text-anchor="middle" fill="#000">0.5:1</text>
<text x="400.90" y="204.80" font-size="13.00" text-anchor="middle" fill="#000">1:1</text>
<text x="442.90" y="204.80" font-size="13.00" text-anchor="middle" fill="#000">2:1</text>
<text x="487.10" y="204.80" font-size="13.00" text-anchor="middle" fill="#000">5:1</text>
<text x="253.00" y="119.10" font-size="19.00" text-anchor="middle" fill="#000" transform="rotate(-90 253.00 119.10)" style="stroke-width:0.1px">MFI</text>
<text x="338.60" y="228.80" font-size="18.70" fill="#000" textLength="128.2" lengthAdjust="spacingAndGlyphs" style="stroke-width:0.1px">OSC:neutrophil</text>
<text x="238.30" y="260.20" font-size="28.00" font-weight="bold" fill="#000">D</text>
<line x1="308.50" y1="311.00" x2="308.50" y2="326.50" stroke="#000" stroke-width="0.80"/>
<line x1="306.00" y1="311.00" x2="311.00" y2="311.00" stroke="#000" stroke-width="0.80"/>
<line x1="306.00" y1="326.50" x2="311.00" y2="326.50" stroke="#000" stroke-width="0.80"/>
<line x1="335.30" y1="317.00" x2="335.30" y2="329.00" stroke="#000" stroke-width="0.80"/>
<line x1="332.80" y1="317.00" x2="337.80" y2="317.00" stroke="#000" stroke-width="0.80"/>
<line x1="332.80" y1="329.00" x2="337.80" y2="329.00" stroke="#000" stroke-width="0.80"/>
<line x1="335.00" y1="302.50" x2="335.00" y2="312.00" stroke="#000" stroke-width="0.80"/>
<line x1="332.50" y1="302.50" x2="337.50" y2="302.50" stroke="#000" stroke-width="0.80"/>
<line x1="332.50" y1="312.00" x2="337.50" y2="312.00" stroke="#000" stroke-width="0.80"/>
<line x1="383.80" y1="288.50" x2="383.80" y2="304.00" stroke="#000" stroke-width="0.80"/>
<line x1="381.30" y1="288.50" x2="386.30" y2="288.50" stroke="#000" stroke-width="0.80"/>
<line x1="381.30" y1="304.00" x2="386.30" y2="304.00" stroke="#000" stroke-width="0.80"/>
<line x1="308.50" y1="325.50" x2="308.50" y2="334.00" stroke="#000" stroke-width="0.80"/>
<line x1="306.00" y1="325.50" x2="311.00" y2="325.50" stroke="#000" stroke-width="0.80"/>
<line x1="306.00" y1="334.00" x2="311.00" y2="334.00" stroke="#000" stroke-width="0.80"/>
<line x1="335.00" y1="349.00" x2="335.00" y2="356.00" stroke="#000" stroke-width="0.80"/>
<line x1="332.50" y1="349.00" x2="337.50" y2="349.00" stroke="#000" stroke-width="0.80"/>
<line x1="332.50" y1="356.00" x2="337.50" y2="356.00" stroke="#000" stroke-width="0.80"/>
<line x1="308.10" y1="381.00" x2="308.10" y2="391.50" stroke="#000" stroke-width="0.80"/>
<line x1="305.60" y1="381.00" x2="310.60" y2="381.00" stroke="#000" stroke-width="0.80"/>
<line x1="305.60" y1="391.50" x2="310.60" y2="391.50" stroke="#000" stroke-width="0.80"/>
<line x1="510.30" y1="288.30" x2="510.30" y2="296.00" stroke="#000" stroke-width="0.80"/>
<line x1="507.80" y1="288.30" x2="512.80" y2="288.30" stroke="#000" stroke-width="0.80"/>
<line x1="507.80" y1="296.00" x2="512.80" y2="296.00" stroke="#000" stroke-width="0.80"/>
<line x1="383.80" y1="307.00" x2="383.80" y2="314.00" stroke="#000" stroke-width="0.80"/>
<line x1="381.30" y1="307.00" x2="386.30" y2="307.00" stroke="#000" stroke-width="0.80"/>
<line x1="381.30" y1="314.00" x2="386.30" y2="314.00" stroke="#000" stroke-width="0.80"/>
<line x1="510.30" y1="366.00" x2="510.30" y2="372.00" stroke="#000" stroke-width="0.80"/>
<line x1="507.80" y1="366.00" x2="512.80" y2="366.00" stroke="#000" stroke-width="0.80"/>
<line x1="507.80" y1="372.00" x2="512.80" y2="372.00" stroke="#000" stroke-width="0.80"/>
<path d="M293.80 322.20 L308.80 318.00 L334.60 322.00 L383.50 311.20 L510.30 288.30" fill="none" stroke="#000" stroke-width="1.10" stroke-linejoin="round"/>
<path d="M293.80 322.20 L308.80 322.00 L334.60 307.70 L383.50 300.30 L510.30 288.30" fill="none" stroke="#000" stroke-width="1.10" stroke-linejoin="round"/>
<path d="M293.80 322.20 L308.80 329.60 L334.60 353.80 L383.50 366.50 L510.30 369.60" fill="none" stroke="#000" stroke-width="1.10" stroke-linejoin="round"/>
<path d="M293.80 322.20 L308.80 386.20 L334.60 388.50 L383.50 372.30 L510.30 376.40" fill="none" stroke="#000" stroke-width="1.10" stroke-linejoin="round"/>
<line x1="293.80" y1="288.10" x2="510.30" y2="288.10" stroke="#000" stroke-width="1.40"/>
<line x1="510.30" y1="288.10" x2="510.30" y2="424.30" stroke="#000" stroke-width="1.40"/>
<line x1="293.80" y1="288.10" x2="293.80" y2="424.90" stroke="#000" stroke-width="1.40"/>
<line x1="293.10" y1="424.30" x2="510.90" y2="424.30" stroke="#000" stroke-width="1.60"/>
<circle cx="293.80" cy="322.20" r="2.80" fill="#fff" stroke="#000" stroke-width="1"/>
<circle cx="308.80" cy="318.00" r="2.80" fill="#fff" stroke="#000" stroke-width="1"/>
<circle cx="334.60" cy="322.00" r="2.80" fill="#fff" stroke="#000" stroke-width="1"/>
<circle cx="383.50" cy="311.20" r="2.80" fill="#fff" stroke="#000" stroke-width="1"/>
<circle cx="510.30" cy="288.30" r="2.80" fill="#fff" stroke="#000" stroke-width="1"/>
<path d="M293.80 318.67 L296.90 324.56 L290.70 324.56 Z" fill="#fff" stroke="#000" stroke-width="0.9"/>
<path d="M308.80 318.47 L311.90 324.36 L305.70 324.36 Z" fill="#fff" stroke="#000" stroke-width="0.9"/>
<path d="M334.60 304.17 L337.70 310.06 L331.50 310.06 Z" fill="#fff" stroke="#000" stroke-width="0.9"/>
<path d="M383.50 296.77 L386.60 302.66 L380.40 302.66 Z" fill="#fff" stroke="#000" stroke-width="0.9"/>
<path d="M510.30 284.77 L513.40 290.66 L507.20 290.66 Z" fill="#fff" stroke="#000" stroke-width="0.9"/>
<path d="M293.80 318.67 L297.06 324.56 L290.55 324.56 Z" fill="#000"/>
<path d="M308.80 326.07 L312.06 331.96 L305.55 331.96 Z" fill="#000"/>
<path d="M334.60 350.27 L337.86 356.16 L331.35 356.16 Z" fill="#000"/>
<path d="M383.50 362.97 L386.75 368.86 L380.25 368.86 Z" fill="#000"/>
<path d="M510.30 366.07 L513.56 371.96 L507.05 371.96 Z" fill="#000"/>
<circle cx="293.80" cy="322.20" r="3.10" fill="#000"/>
<circle cx="308.80" cy="386.20" r="3.10" fill="#000"/>
<circle cx="334.60" cy="388.50" r="3.10" fill="#000"/>
<circle cx="383.50" cy="372.30" r="3.10" fill="#000"/>
<circle cx="510.30" cy="376.40" r="3.10" fill="#000"/>
<line x1="290.60" y1="424.30" x2="293.80" y2="424.30" stroke="#000" stroke-width="1.10"/>
<text x="284.20" y="429.30" font-size="13.50" text-anchor="end" fill="#000">0</text>
<line x1="290.60" y1="404.84" x2="293.80" y2="404.84" stroke="#000" stroke-width="1.10"/>
<text x="284.20" y="409.84" font-size="13.50" text-anchor="end" fill="#000">50</text>
<line x1="290.60" y1="385.39" x2="293.80" y2="385.39" stroke="#000" stroke-width="1.10"/>
<text x="284.20" y="390.39" font-size="13.50" text-anchor="end" fill="#000">100</text>
<line x1="290.60" y1="365.93" x2="293.80" y2="365.93" stroke="#000" stroke-width="1.10"/>
<text x="284.20" y="370.93" font-size="13.50" text-anchor="end" fill="#000">150</text>
<line x1="290.60" y1="346.47" x2="293.80" y2="346.47" stroke="#000" stroke-width="1.10"/>
<text x="284.20" y="351.47" font-size="13.50" text-anchor="end" fill="#000">200</text>
<line x1="290.60" y1="327.01" x2="293.80" y2="327.01" stroke="#000" stroke-width="1.10"/>
<text x="284.20" y="332.01" font-size="13.50" text-anchor="end" fill="#000">250</text>
<line x1="290.60" y1="307.56" x2="293.80" y2="307.56" stroke="#000" stroke-width="1.10"/>
<text x="284.20" y="312.56" font-size="13.50" text-anchor="end" fill="#000">300</text>
<line x1="290.60" y1="288.10" x2="293.80" y2="288.10" stroke="#000" stroke-width="1.10"/>
<text x="284.20" y="293.10" font-size="13.50" text-anchor="end" fill="#000">350</text>
<line x1="293.80" y1="424.30" x2="293.80" y2="427.50" stroke="#000" stroke-width="1.10"/>
<line x1="308.80" y1="424.30" x2="308.80" y2="427.50" stroke="#000" stroke-width="1.10"/>
<line x1="334.60" y1="424.30" x2="334.60" y2="427.50" stroke="#000" stroke-width="1.10"/>
<line x1="383.50" y1="424.30" x2="383.50" y2="427.50" stroke="#000" stroke-width="1.10"/>
<line x1="510.30" y1="424.30" x2="510.30" y2="427.50" stroke="#000" stroke-width="1.10"/>
<text x="293.80" y="446.80" font-size="13.50" text-anchor="middle" fill="#000">0</text>
<text x="308.20" y="446.80" font-size="13.50" text-anchor="middle" fill="#000">5</text>
<text x="334.50" y="446.80" font-size="13.50" text-anchor="middle" fill="#000">15</text>
<text x="383.50" y="446.80" font-size="13.50" text-anchor="middle" fill="#000">40</text>
<text x="507.90" y="446.80" font-size="13.50" text-anchor="middle" fill="#000">100</text>
<text x="252.90" y="364.70" font-size="19.00" text-anchor="middle" fill="#000" transform="rotate(-90 252.90 364.70)" style="stroke-width:0.1px">MFI</text>
<text x="361.00" y="467.30" font-size="17.00" fill="#000" textLength="85.6" lengthAdjust="spacingAndGlyphs" style="stroke-width:0.1px">Time (min)</text>
<text x="239.00" y="505.80" font-size="29.00" font-weight="bold" fill="#000">G</text>
<rect x="300.53" y="582.08" width="12.70" height="71.12" fill="#000"/>
<rect x="313.73" y="549.37" width="11.60" height="103.83" fill="#fff" stroke="#000" stroke-width="1.10"/>
<rect x="343.19" y="569.85" width="12.70" height="83.35" fill="#000"/>
<rect x="356.39" y="531.88" width="11.60" height="121.32" fill="#fff" stroke="#000" stroke-width="1.10"/>
<rect x="385.85" y="576.44" width="12.70" height="76.76" fill="#000"/>
<rect x="399.05" y="545.80" width="11.60" height="107.40" fill="#fff" stroke="#000" stroke-width="1.10"/>
<rect x="428.51" y="577.47" width="12.70" height="75.73" fill="#000"/>
<rect x="441.71" y="537.99" width="11.60" height="115.21" fill="#fff" stroke="#000" stroke-width="1.10"/>
<rect x="471.17" y="565.43" width="12.70" height="87.77" fill="#000"/>
<rect x="484.37" y="529.90" width="11.60" height="123.30" fill="#fff" stroke="#000" stroke-width="1.10"/>
<line x1="291.90" y1="521.50" x2="505.20" y2="521.50" stroke="#000" stroke-width="1.40"/>
<line x1="505.20" y1="521.50" x2="505.20" y2="653.20" stroke="#000" stroke-width="1.40"/>
<line x1="291.90" y1="521.50" x2="291.90" y2="653.80" stroke="#000" stroke-width="1.40"/>
<line x1="291.20" y1="653.20" x2="505.80" y2="653.20" stroke="#000" stroke-width="1.60"/>
<line x1="288.70" y1="653.20" x2="291.90" y2="653.20" stroke="#000" stroke-width="1.10"/>
<text x="283.60" y="657.60" font-size="12.50" text-anchor="end" fill="#000">0</text>
<line x1="288.70" y1="634.39" x2="291.90" y2="634.39" stroke="#000" stroke-width="1.10"/>
<text x="283.60" y="638.79" font-size="12.50" text-anchor="end" fill="#000">0.2</text>
<line x1="288.70" y1="615.57" x2="291.90" y2="615.57" stroke="#000" stroke-width="1.10"/>
<text x="283.60" y="619.97" font-size="12.50" text-anchor="end" fill="#000">0.4</text>
<line x1="288.70" y1="596.76" x2="291.90" y2="596.76" stroke="#000" stroke-width="1.10"/>
<text x="283.60" y="601.16" font-size="12.50" text-anchor="end" fill="#000">0.6</text>
<line x1="288.70" y1="577.94" x2="291.90" y2="577.94" stroke="#000" stroke-width="1.10"/>
<text x="283.60" y="582.34" font-size="12.50" text-anchor="end" fill="#000">0.8</text>
<line x1="288.70" y1="559.13" x2="291.90" y2="559.13" stroke="#000" stroke-width="1.10"/>
<text x="283.60" y="563.53" font-size="12.50" text-anchor="end" fill="#000">1</text>
<line x1="288.70" y1="540.31" x2="291.90" y2="540.31" stroke="#000" stroke-width="1.10"/>
<text x="283.60" y="544.71" font-size="12.50" text-anchor="end" fill="#000">1.2</text>
<line x1="288.70" y1="521.50" x2="291.90" y2="521.50" stroke="#000" stroke-width="1.10"/>
<text x="283.60" y="525.90" font-size="12.50" text-anchor="end" fill="#000">1.4</text>
<line x1="291.90" y1="653.20" x2="291.90" y2="656.40" stroke="#000" stroke-width="1.10"/>
<line x1="334.56" y1="653.20" x2="334.56" y2="656.40" stroke="#000" stroke-width="1.10"/>
<line x1="377.22" y1="653.20" x2="377.22" y2="656.40" stroke="#000" stroke-width="1.10"/>
<line x1="419.88" y1="653.20" x2="419.88" y2="656.40" stroke="#000" stroke-width="1.10"/>
<line x1="462.54" y1="653.20" x2="462.54" y2="656.40" stroke="#000" stroke-width="1.10"/>
<line x1="505.20" y1="653.20" x2="505.20" y2="656.40" stroke="#000" stroke-width="1.10"/>
<text x="254.10" y="587.80" font-size="18.50" text-anchor="middle" fill="#000" transform="rotate(-90 254.10 587.80)" style="stroke-width:0.1px">ratio</text>
<text x="310.00" y="690.20" font-size="13.00" text-anchor="middle" fill="#000" transform="rotate(-90 310.00 690.20)">freshly</text>
<text x="323.60" y="693.90" font-size="13.00" text-anchor="middle" fill="#000" transform="rotate(-90 323.60 693.90)">isolated</text>
<text x="353.40" y="693.60" font-size="13.00" text-anchor="middle" fill="#000" transform="rotate(-90 353.40 693.60)">medium</text>
<text x="366.00" y="693.60" font-size="13.00" text-anchor="middle" fill="#000" transform="rotate(-90 366.00 693.60)">15 min</text>
<text x="403.60" y="698.20" font-size="13.00" text-anchor="middle" fill="#000" transform="rotate(-90 403.60 698.20)">OSC 15 min</text>
<text x="441.20" y="693.80" font-size="13.00" text-anchor="middle" fill="#000" transform="rotate(-90 441.20 693.80)">medium</text>
<text x="452.40" y="695.70" font-size="13.00" text-anchor="middle" fill="#000" transform="rotate(-90 452.40 695.70)">1.5 hr</text>
<text x="487.80" y="697.50" font-size="13.00" text-anchor="middle" fill="#000" transform="rotate(-90 487.80 697.50)">OSC 1.5 hr</text>
<text x="-0.30" y="843.90" font-size="28.00" font-weight="bold" fill="#000">H</text>
<text x="66.00" y="866.50" font-size="13.00" fill="#000" textLength="70.6" lengthAdjust="spacingAndGlyphs">anti-CXCR1</text>
<text x="140.20" y="866.50" font-size="13.00" fill="#000" textLength="70.8" lengthAdjust="spacingAndGlyphs">anti-CXCR2</text>
<text x="1.20" y="908.00" font-size="15.50" fill="#000" style="stroke-width:0.1px">medium</text>
<text x="56.80" y="996.40" font-size="15.50" text-anchor="end" fill="#000" style="stroke-width:0.1px">IL-8</text>
<g clip-path="url(#cp1)">
<rect x="67.60" y="874.00" width="66.00" height="61.00" fill="#151515"/>
<rect x="67.60" y="874.00" width="66.00" height="61.00" fill="#fff" filter="url(#nzd)" opacity="0.05"/>
<circle cx="101.5" cy="903.2" r="17" fill="#242424" filter="url(#bl2)"/>
<g filter="url(#org6)">
<ellipse cx="101.50" cy="903.20" rx="14.00" ry="14.00" fill="none" stroke="#f6f6f6" stroke-width="5.50"/>
</g>
<g filter="url(#bl1)">
<ellipse cx="95.00" cy="890.20" rx="3.20" ry="2.20" fill="#eeeeee"/>
<ellipse cx="106.50" cy="890.30" rx="2.80" ry="2.20" fill="#eeeeee"/>
<ellipse cx="110.20" cy="895.50" rx="2.00" ry="4.00" fill="#ffffff" transform="rotate(-35.0 110.20 895.50)"/>
<ellipse cx="107.80" cy="915.60" rx="3.00" ry="2.00" fill="#e0e0e0"/>
<ellipse cx="88.20" cy="905.00" rx="2.00" ry="2.60" fill="#dddddd"/>
<ellipse cx="112.50" cy="910.50" rx="2.20" ry="2.00" fill="#dddddd"/>
</g>
<g filter="url(#bl)">
<ellipse cx="101.00" cy="904.00" rx="1.00" ry="1.00" fill="#555555"/>
<ellipse cx="97.00" cy="908.00" rx="0.80" ry="0.80" fill="#555555"/>
<ellipse cx="104.00" cy="898.00" rx="0.80" ry="0.80" fill="#4a4a4a"/>
</g>
</g>
<rect x="68.30" y="935.70" width="64.60" height="11.20" fill="#fff" stroke="#000" stroke-width="1.40"/>
<text x="101.50" y="945.70" font-size="9.60" font-weight="bold" text-anchor="middle" fill="#000" textLength="41.6" lengthAdjust="spacingAndGlyphs">MFI=316</text>
<g clip-path="url(#cp2)">
<rect x="140.20" y="874.00" width="65.20" height="61.00" fill="#151515"/>
<rect x="140.20" y="874.00" width="65.20" height="61.00" fill="#fff" filter="url(#nzd)" opacity="0.05"/>
<circle cx="171.5" cy="905" r="19" fill="#262626" filter="url(#bl2)"/>
<g filter="url(#org3)">
<ellipse cx="171.50" cy="905.00" rx="15.00" ry="16.00" fill="#6a6a6a"/>
</g>
<g filter="url(#org1)">
<ellipse cx="171.50" cy="905.00" rx="12.50" ry="13.50" fill="none" stroke="#e8e8e8" stroke-width="8.00"/>
</g>
<g filter="url(#org5)">
<ellipse cx="171.50" cy="905.00" rx="8.00" ry="9.00" fill="#9a9a9a"/>
</g>
<g filter="url(#bl1)">
<ellipse cx="160.30" cy="900.00" rx="2.40" ry="3.40" fill="#f0f0f0"/>
<ellipse cx="165.70" cy="917.50" rx="3.00" ry="2.20" fill="#f0f0f0"/>
<ellipse cx="183.50" cy="902.00" rx="2.20" ry="3.40" fill="#e8e8e8"/>
<ellipse cx="179.40" cy="916.60" rx="2.80" ry="2.20" fill="#e8e8e8"/>
</g>
</g>
<rect x="140.90" y="935.70" width="63.80" height="11.20" fill="#fff" stroke="#000" stroke-width="1.40"/>
<text x="173.50" y="945.70" font-size="9.60" font-weight="bold" text-anchor="middle" fill="#000" textLength="41.6" lengthAdjust="spacingAndGlyphs">MFI=222</text>
<g clip-path="url(#cp3)">
<rect x="67.60" y="959.00" width="66.00" height="60.30" fill="#151515"/>
<rect x="67.60" y="959.00" width="66.00" height="60.30" fill="#fff" filter="url(#nzd)" opacity="0.05"/>
<ellipse cx="100.3" cy="988.3" rx="19" ry="23" fill="#242424" filter="url(#bl2)"/>
<g filter="url(#org5)">
<ellipse cx="103.00" cy="988.50" rx="9.00" ry="14.00" fill="#4a4a4a"/>
</g>
<g filter="url(#org2)">
<ellipse cx="100.60" cy="988.30" rx="14.00" ry="18.60" fill="none" stroke="#f4f4f4" stroke-width="6.00"/>
</g>
<g filter="url(#org4)">
<ellipse cx="100.60" cy="988.30" rx="14.00" ry="18.60" fill="none" stroke="#b8b8b8" stroke-width="4.50"/>
</g>
<g filter="url(#org0)">
<path d="M97 968.5 A14 19.5 0 0 0 97 1007.5" fill="none" stroke="#f2f2f2" stroke-width="9"/>
</g>
<g filter="url(#org3)">
<path d="M97 968.5 A14 19.5 0 0 0 97 1007.5" fill="none" stroke="#d0d0d0" stroke-width="7"/>
</g>
</g>
<rect x="68.30" y="1020.00" width="64.60" height="12.00" fill="#fff" stroke="#000" stroke-width="1.40"/>
<text x="100.20" y="1030.30" font-size="9.60" font-weight="bold" text-anchor="middle" fill="#000" textLength="36.3" lengthAdjust="spacingAndGlyphs">MFI=79</text>
<g clip-path="url(#cp4)">
<rect x="140.20" y="959.00" width="65.20" height="60.30" fill="#151515"/>
<rect x="140.20" y="959.00" width="65.20" height="60.30" fill="#fff" filter="url(#nzd)" opacity="0.05"/>
<circle cx="171" cy="990.7" r="20" fill="#242424" filter="url(#bl2)"/>
<g filter="url(#org3)">
<ellipse cx="171.00" cy="990.70" rx="10.00" ry="10.00" fill="#4e4e4e"/>
</g>
<g filter="url(#org0)">
<ellipse cx="171.00" cy="990.70" rx="15.60" ry="15.00" fill="none" stroke="#f4f4f4" stroke-width="6.00"/>
</g>
<g filter="url(#org5)">
<ellipse cx="171.00" cy="990.70" rx="15.60" ry="15.00" fill="none" stroke="#c0c0c0" stroke-width="4.50"/>
</g>
<g filter="url(#bl1)">
<ellipse cx="166.00" cy="1004.00" rx="5.50" ry="2.60" fill="#f0f0f0"/>
<ellipse cx="156.00" cy="990.00" rx="2.20" ry="4.00" fill="#e0e0e0"/>
</g>
</g>
<rect x="140.90" y="1020.00" width="63.80" height="12.00" fill="#fff" stroke="#000" stroke-width="1.40"/>
<text x="171.80" y="1030.30" font-size="9.60" font-weight="bold" text-anchor="middle" fill="#000" textLength="36.3" lengthAdjust="spacingAndGlyphs">MFI=46</text>
<text x="247.60" y="763.20" font-size="13.00" fill="#000" textLength="70.8" lengthAdjust="spacingAndGlyphs">anti-CXCR1</text>
<text x="350.60" y="763.20" font-size="13.00" fill="#000" textLength="71.0" lengthAdjust="spacingAndGlyphs">anti-CXCR2</text>
<text x="433.60" y="763.20" font-size="13.00" fill="#000" textLength="65.8" lengthAdjust="spacingAndGlyphs">control IgG</text>
<g clip-path="url(#cp5)">
<rect x="227.50" y="773.40" width="111.10" height="123.00" fill="#8c8c8c"/>
<rect x="227.50" y="773.40" width="111.10" height="123.00" fill="#000" filter="url(#nz)" opacity="0.55"/>
<rect x="227.50" y="773.40" width="111.10" height="123.00" fill="#fff" filter="url(#nzw)" opacity="0.45"/>
<circle cx="263.5" cy="803" r="18" fill="#6e6e6e" opacity="0.6" filter="url(#bl2)"/>
<g filter="url(#bl)">
<ellipse cx="279.53" cy="802.82" rx="1.02" ry="0.81" fill="#bcbcbc"/>
<ellipse cx="279.13" cy="806.63" rx="1.00" ry="0.80" fill="#d0d0d0"/>
<ellipse cx="277.70" cy="807.76" rx="0.96" ry="0.77" fill="#bcbcbc"/>
<ellipse cx="277.19" cy="811.93" rx="0.96" ry="0.77" fill="#bcbcbc"/>
<ellipse cx="275.34" cy="813.02" rx="0.84" ry="0.67" fill="#c4c4c4"/>
<ellipse cx="272.08" cy="815.62" rx="1.09" ry="0.87" fill="#f5f5f5"/>
<ellipse cx="270.11" cy="818.07" rx="0.82" ry="0.66" fill="#c4c4c4"/>
<ellipse cx="267.79" cy="817.09" rx="0.99" ry="0.79" fill="#f5f5f5"/>
<ellipse cx="264.65" cy="817.70" rx="0.81" ry="0.64" fill="#d0d0d0"/>
<ellipse cx="262.32" cy="819.57" rx="1.00" ry="0.80" fill="#d0d0d0"/>
<ellipse cx="259.13" cy="817.74" rx="0.99" ry="0.79" fill="#d0d0d0"/>
<ellipse cx="255.82" cy="817.39" rx="1.01" ry="0.81" fill="#d0d0d0"/>
<ellipse cx="254.20" cy="815.70" rx="0.92" ry="0.73" fill="#f5f5f5"/>
<ellipse cx="251.28" cy="814.04" rx="0.99" ry="0.79" fill="#bcbcbc"/>
<ellipse cx="250.35" cy="811.90" rx="0.97" ry="0.78" fill="#c4c4c4"/>
<ellipse cx="249.48" cy="809.19" rx="0.88" ry="0.71" fill="#f5f5f5"/>
<ellipse cx="247.09" cy="805.71" rx="0.98" ry="0.79" fill="#bcbcbc"/>
<ellipse cx="247.21" cy="802.58" rx="0.99" ry="0.79" fill="#bcbcbc"/>
<ellipse cx="248.94" cy="800.18" rx="0.82" ry="0.65" fill="#bcbcbc"/>
<ellipse cx="248.29" cy="797.47" rx="0.85" ry="0.68" fill="#c4c4c4"/>
<ellipse cx="250.08" cy="793.99" rx="1.07" ry="0.86" fill="#d0d0d0"/>
<ellipse cx="251.55" cy="792.17" rx="0.83" ry="0.67" fill="#bcbcbc"/>
<ellipse cx="254.07" cy="791.69" rx="1.02" ry="0.81" fill="#c4c4c4"/>
<ellipse cx="256.17" cy="788.91" rx="0.98" ry="0.79" fill="#f5f5f5"/>
<ellipse cx="259.63" cy="788.15" rx="0.97" ry="0.77" fill="#bcbcbc"/>
<ellipse cx="261.40" cy="786.75" rx="0.84" ry="0.67" fill="#bcbcbc"/>
<ellipse cx="264.81" cy="788.14" rx="1.05" ry="0.84" fill="#f5f5f5"/>
<ellipse cx="267.91" cy="787.70" rx="0.93" ry="0.74" fill="#f5f5f5"/>
<ellipse cx="270.36" cy="789.08" rx="1.09" ry="0.87" fill="#f5f5f5"/>
<ellipse cx="272.08" cy="790.99" rx="1.06" ry="0.84" fill="#d0d0d0"/>
<ellipse cx="274.40" cy="792.90" rx="0.81" ry="0.65" fill="#d0d0d0"/>
<ellipse cx="277.31" cy="794.32" rx="1.06" ry="0.85" fill="#bcbcbc"/>
<ellipse cx="277.32" cy="797.81" rx="1.02" ry="0.81" fill="#d0d0d0"/>
<ellipse cx="279.05" cy="800.20" rx="1.07" ry="0.86" fill="#bcbcbc"/>
</g>
<ellipse cx="264.5" cy="803.5" rx="9.5" ry="9.5" fill="#1a1a1a" opacity="0.9" filter="url(#bl)"/>
<ellipse cx="255.90" cy="797.80" rx="5.10" ry="4.60" fill="none" stroke="#1c1c1c" stroke-width="1.6" transform="rotate(-20.0 255.90 797.80)"/>
<ellipse cx="255.90" cy="797.80" rx="3.60" ry="3.10" fill="#8c8c8c" stroke="#f2f2f2" stroke-width="1.7" transform="rotate(-20.0 255.90 797.80)"/>
<ellipse cx="268.40" cy="795.40" rx="4.70" ry="5.70" fill="none" stroke="#1c1c1c" stroke-width="1.6" transform="rotate(30.0 268.40 795.40)"/>
<ellipse cx="268.40" cy="795.40" rx="3.20" ry="4.20" fill="#8c8c8c" stroke="#f2f2f2" stroke-width="1.7" transform="rotate(30.0 268.40 795.40)"/>
<ellipse cx="273.20" cy="804.50" rx="4.40" ry="5.80" fill="none" stroke="#1c1c1c" stroke-width="1.6" transform="rotate(0.0 273.20 804.50)"/>
<ellipse cx="273.20" cy="804.50" rx="2.90" ry="4.30" fill="#8c8c8c" stroke="#f2f2f2" stroke-width="1.7" transform="rotate(0.0 273.20 804.50)"/>
<ellipse cx="262.60" cy="806.00" rx="4.50" ry="4.30" fill="none" stroke="#1c1c1c" stroke-width="1.6" transform="rotate(0.0 262.60 806.00)"/>
<ellipse cx="262.60" cy="806.00" rx="3.00" ry="2.80" fill="#8c8c8c" stroke="#f2f2f2" stroke-width="1.7" transform="rotate(0.0 262.60 806.00)"/>
<ellipse cx="256.30" cy="812.20" rx="5.10" ry="4.40" fill="none" stroke="#1c1c1c" stroke-width="1.6" transform="rotate(15.0 256.30 812.20)"/>
<ellipse cx="256.30" cy="812.20" rx="3.60" ry="2.90" fill="#8c8c8c" stroke="#f2f2f2" stroke-width="1.7" transform="rotate(15.0 256.30 812.20)"/>
<g filter="url(#bl)">
<ellipse cx="255.40" cy="791.00" rx="1.40" ry="1.10" fill="#eeeeee"/>
<ellipse cx="263.00" cy="789.60" rx="1.40" ry="1.10" fill="#eeeeee"/>
<ellipse cx="272.00" cy="813.00" rx="1.20" ry="1.20" fill="#bbbbbb"/>
</g>
<circle cx="312" cy="836" r="16" fill="#7a7a7a" opacity="0.5" filter="url(#bl2)"/>
<g filter="url(#bl)">
<ellipse cx="324.84" cy="835.44" rx="0.80" ry="0.64" fill="#f5f5f5"/>
<ellipse cx="325.31" cy="838.00" rx="1.28" ry="1.02" fill="#f5f5f5"/>
<ellipse cx="324.99" cy="840.42" rx="1.23" ry="0.98" fill="#d0d0d0"/>
<ellipse cx="323.93" cy="843.19" rx="0.84" ry="0.67" fill="#d0d0d0"/>
<ellipse cx="322.82" cy="844.01" rx="0.93" ry="0.75" fill="#f5f5f5"/>
<ellipse cx="321.30" cy="845.44" rx="1.46" ry="1.17" fill="#bcbcbc"/>
<ellipse cx="318.55" cy="846.55" rx="1.20" ry="0.96" fill="#e6e6e6"/>
<ellipse cx="317.03" cy="848.58" rx="1.15" ry="0.92" fill="#f5f5f5"/>
<ellipse cx="315.27" cy="849.23" rx="1.02" ry="0.81" fill="#f5f5f5"/>
<ellipse cx="312.50" cy="849.84" rx="0.93" ry="0.75" fill="#bcbcbc"/>
<ellipse cx="310.94" cy="848.45" rx="1.42" ry="1.13" fill="#f5f5f5"/>
<ellipse cx="309.31" cy="848.83" rx="1.39" ry="1.11" fill="#d0d0d0"/>
<ellipse cx="306.74" cy="847.74" rx="1.21" ry="0.97" fill="#f5f5f5"/>
<ellipse cx="305.30" cy="847.03" rx="1.45" ry="1.16" fill="#f5f5f5"/>
<ellipse cx="302.55" cy="845.98" rx="1.14" ry="0.91" fill="#f5f5f5"/>
<ellipse cx="301.37" cy="844.08" rx="0.80" ry="0.64" fill="#f5f5f5"/>
<ellipse cx="299.67" cy="842.60" rx="0.93" ry="0.74" fill="#e6e6e6"/>
<ellipse cx="299.92" cy="839.51" rx="1.31" ry="1.05" fill="#bcbcbc"/>
<ellipse cx="299.61" cy="838.11" rx="1.32" ry="1.05" fill="#bcbcbc"/>
<ellipse cx="298.65" cy="835.89" rx="1.04" ry="0.83" fill="#bcbcbc"/>
<ellipse cx="299.47" cy="833.41" rx="0.84" ry="0.67" fill="#bcbcbc"/>
<ellipse cx="300.12" cy="831.53" rx="1.03" ry="0.83" fill="#f5f5f5"/>
<ellipse cx="300.91" cy="830.15" rx="0.80" ry="0.64" fill="#f5f5f5"/>
<ellipse cx="301.22" cy="828.18" rx="1.49" ry="1.19" fill="#bcbcbc"/>
<ellipse cx="303.41" cy="826.59" rx="0.93" ry="0.74" fill="#bcbcbc"/>
<ellipse cx="303.93" cy="824.47" rx="1.27" ry="1.01" fill="#d0d0d0"/>
<ellipse cx="305.96" cy="823.36" rx="0.83" ry="0.66" fill="#e6e6e6"/>
<ellipse cx="308.77" cy="823.07" rx="1.07" ry="0.86" fill="#d0d0d0"/>
<ellipse cx="310.50" cy="822.38" rx="1.16" ry="0.93" fill="#d0d0d0"/>
<ellipse cx="313.42" cy="822.54" rx="0.82" ry="0.66" fill="#e6e6e6"/>
<ellipse cx="314.68" cy="823.42" rx="1.00" ry="0.80" fill="#f5f5f5"/>
<ellipse cx="317.47" cy="823.23" rx="0.81" ry="0.65" fill="#e6e6e6"/>
<ellipse cx="319.25" cy="825.24" rx="0.87" ry="0.70" fill="#d0d0d0"/>
<ellipse cx="321.60" cy="826.33" rx="0.92" ry="0.74" fill="#e6e6e6"/>
<ellipse cx="322.13" cy="827.65" rx="1.37" ry="1.09" fill="#d0d0d0"/>
<ellipse cx="322.74" cy="829.84" rx="0.96" ry="0.77" fill="#e6e6e6"/>
<ellipse cx="325.02" cy="831.69" rx="1.21" ry="0.97" fill="#bcbcbc"/>
<ellipse cx="324.85" cy="833.21" rx="1.42" ry="1.14" fill="#f5f5f5"/>
</g>
<g filter="url(#bl)">
<ellipse cx="312.5" cy="821.5" rx="5" ry="1.6" fill="#2a2a2a"/>
<ellipse cx="312.8" cy="823.9" rx="5" ry="1.8" fill="#f4f4f4"/>
</g>
<ellipse cx="308.90" cy="829.30" rx="3.60" ry="2.80" fill="#6a6a6a" stroke="#ececec" stroke-width="1.5"/>
<ellipse cx="308.90" cy="829.30" rx="5.00" ry="4.20" fill="none" stroke="#2a2a2a" stroke-width="1.0"/>
<ellipse cx="318.00" cy="841.00" rx="3.20" ry="3.20" fill="#6a6a6a" stroke="#ececec" stroke-width="1.5"/>
<ellipse cx="318.00" cy="841.00" rx="4.60" ry="4.60" fill="none" stroke="#2a2a2a" stroke-width="1.0"/>
<ellipse cx="324.00" cy="835.80" rx="2.60" ry="2.80" fill="#6a6a6a" stroke="#ececec" stroke-width="1.5"/>
<ellipse cx="324.00" cy="835.80" rx="4.00" ry="4.20" fill="none" stroke="#2a2a2a" stroke-width="1.0"/>
<ellipse cx="305.00" cy="842.00" rx="2.60" ry="2.40" fill="#6a6a6a" stroke="#ececec" stroke-width="1.5"/>
<ellipse cx="305.00" cy="842.00" rx="4.00" ry="3.80" fill="none" stroke="#2a2a2a" stroke-width="1.0"/>
<rect x="227.50" y="849.50" width="45.40" height="46.90" fill="#888888"/>
<rect x="227.50" y="849.5" width="45.40" height="46.90" fill="#000" filter="url(#nz)" opacity="0.4"/>
<path d="M256 861.5 Q246 854.5 235 861 Q234.5 872 241 881 Q247 887 256 887" fill="none" stroke="#dcdcdc" stroke-width="2.6" stroke-dasharray="4 1.2 2 1" filter="url(#bl)"/>
<path d="M256 861.5 Q262 873 256 887" fill="none" stroke="#b8b8b8" stroke-width="1.4" filter="url(#bl)"/>
<path d="M236.5 862 Q237 872 242 880" fill="none" stroke="#5a5a5a" stroke-width="1.0" filter="url(#bl)"/>
<rect x="226.50" y="849.50" width="45.90" height="47.90" fill="none" stroke="#111" stroke-width="1.6"/>
</g>
<text x="230.60" y="829.00" font-size="15.20" font-weight="bold" fill="#111">pN</text>
<text x="311.70" y="862.20" font-size="15.20" font-weight="bold" fill="#111">pN</text>
<text x="228.00" y="893.80" font-size="14.50" font-weight="bold" fill="#111">N</text>
<g clip-path="url(#cp6)">
<rect x="227.50" y="896.40" width="111.10" height="124.90" fill="#141414"/>
<rect x="227.50" y="896.40" width="111.10" height="124.90" fill="#fff" filter="url(#nzd)" opacity="0.05"/>
<circle cx="259" cy="931" r="18" fill="#222" filter="url(#bl2)"/>
<g filter="url(#bl2)" opacity="0.5">
<path d="M252.56 922.42 Q253.35 924.87 252.80 926.87 Q252.26 928.86 249.80 929.64 Q247.34 930.41 245.85 929.52 Q244.36 928.63 242.88 926.26 Q241.40 923.89 242.56 921.35 Q243.72 918.82 245.89 918.57 Q248.07 918.33 249.93 919.15 Q251.78 919.97 252.56 922.42Z" fill="#606060"/>
<path d="M269.14 918.57 Q269.60 920.36 268.74 922.39 Q267.88 924.43 265.38 924.97 Q262.88 925.51 259.98 925.27 Q257.08 925.03 256.66 922.99 Q256.25 920.94 257.48 918.88 Q258.71 916.83 261.32 915.72 Q263.93 914.62 266.30 915.70 Q268.67 916.78 269.14 918.57Z" fill="#606060"/>
<path d="M276.58 931.49 Q277.25 934.37 275.67 935.44 Q274.10 936.51 271.59 938.30 Q269.09 940.09 267.69 938.50 Q266.29 936.91 264.97 934.93 Q263.66 932.95 264.80 930.29 Q265.94 927.62 268.36 927.08 Q270.78 926.53 273.35 927.57 Q275.92 928.60 276.58 931.49Z" fill="#606060"/>
<path d="M257.12 941.39 Q258.63 942.00 257.10 943.89 Q255.56 945.77 253.61 946.79 Q251.66 947.81 249.35 947.22 Q247.05 946.64 244.52 945.12 Q242.00 943.60 244.21 941.95 Q246.42 940.29 248.93 939.36 Q251.44 938.43 253.52 939.60 Q255.60 940.78 257.12 941.39Z" fill="#606060"/>
<path d="M260.36 933.67 Q261.33 935.49 260.34 936.45 Q259.35 937.42 257.40 938.60 Q255.46 939.77 254.58 938.34 Q253.71 936.90 252.41 936.01 Q251.10 935.12 252.23 933.77 Q253.35 932.41 254.73 931.88 Q256.10 931.34 257.75 931.60 Q259.40 931.85 260.36 933.67Z" fill="#606060"/>
<path d="M260.44 914.18 Q260.53 915.61 260.22 916.68 Q259.91 917.76 258.86 917.84 Q257.80 917.91 256.53 917.34 Q255.26 916.77 254.78 915.87 Q254.30 914.96 254.83 913.87 Q255.36 912.78 256.64 912.44 Q257.92 912.10 259.14 912.43 Q260.36 912.75 260.44 914.18Z" fill="#606060"/>
</g>
<g filter="url(#bl)">
<path d="M251.96 921.91 Q252.31 923.53 251.60 924.94 Q250.90 926.35 249.09 927.54 Q247.29 928.73 246.33 927.66 Q245.36 926.58 243.62 925.54 Q241.88 924.50 242.61 922.48 Q243.34 920.46 245.32 919.83 Q247.29 919.19 249.46 919.74 Q251.62 920.28 251.96 921.91Z" fill="#ffffff"/>
<path d="M268.52 919.42 Q269.50 921.11 268.86 922.27 Q268.22 923.42 266.10 924.20 Q263.97 924.97 261.20 924.33 Q258.43 923.68 258.13 922.32 Q257.84 920.96 259.29 919.54 Q260.74 918.12 262.31 917.15 Q263.89 916.18 265.72 916.95 Q267.54 917.72 268.52 919.42Z" fill="#ffffff"/>
<path d="M274.92 931.04 Q275.28 933.84 273.96 935.15 Q272.63 936.46 271.06 937.12 Q269.49 937.78 268.55 937.39 Q267.61 936.99 266.21 934.87 Q264.82 932.74 266.10 931.00 Q267.39 929.26 268.97 928.04 Q270.55 926.83 272.55 927.53 Q274.56 928.24 274.92 931.04Z" fill="#ffffff"/>
<path d="M256.26 944.29 Q256.68 946.42 255.46 946.97 Q254.24 947.51 251.76 947.11 Q249.29 946.71 246.98 944.98 Q244.67 943.25 245.66 941.98 Q246.64 940.71 247.18 939.86 Q247.73 939.01 250.45 939.16 Q253.17 939.30 254.50 940.73 Q255.83 942.16 256.26 944.29Z" fill="#ffffff"/>
<path d="M258.81 934.33 Q259.74 935.12 259.18 935.99 Q258.62 936.85 257.28 936.89 Q255.93 936.93 254.89 936.94 Q253.85 936.94 253.63 935.83 Q253.40 934.73 253.81 934.26 Q254.21 933.79 254.95 933.10 Q255.68 932.40 256.78 932.97 Q257.88 933.54 258.81 934.33Z" fill="#d8d8d8"/>
<path d="M259.16 914.60 Q259.80 915.10 259.46 915.90 Q259.13 916.71 258.24 916.97 Q257.36 917.24 256.48 916.96 Q255.59 916.69 255.72 916.11 Q255.85 915.54 255.77 914.86 Q255.69 914.19 256.67 914.00 Q257.65 913.82 258.09 913.96 Q258.52 914.10 259.16 914.60Z" fill="#d8d8d8"/>
</g>
<g filter="url(#bl1)">
<ellipse cx="260.50" cy="945.50" rx="2.40" ry="1.60" fill="#8a8a8a"/>
<ellipse cx="243.50" cy="934.00" rx="1.60" ry="1.80" fill="#7a7a7a"/>
</g>
<circle cx="315" cy="973" r="19" fill="#262626" filter="url(#bl2)"/>
<g filter="url(#org4)">
<ellipse cx="315.00" cy="973.00" rx="14.50" ry="13.50" fill="none" stroke="#8a8a8a" stroke-width="4.00"/>
</g>
<g filter="url(#bl2)" opacity="0.5">
<path d="M314.64 962.20 Q315.30 964.06 314.84 965.57 Q314.38 967.09 312.30 967.68 Q310.23 968.27 308.97 967.59 Q307.71 966.91 306.46 965.11 Q305.22 963.32 306.20 961.39 Q307.17 959.47 309.01 959.28 Q310.84 959.10 312.41 959.72 Q313.98 960.34 314.64 962.20Z" fill="#606060"/>
<path d="M319.08 957.15 Q319.33 958.12 318.87 959.23 Q318.42 960.33 317.09 960.63 Q315.77 960.92 314.24 960.79 Q312.70 960.67 312.48 959.55 Q312.26 958.44 312.91 957.32 Q313.56 956.20 314.95 955.60 Q316.33 955.00 317.58 955.59 Q318.84 956.18 319.08 957.15Z" fill="#606060"/>
<path d="M333.77 971.00 Q334.26 973.09 333.11 973.87 Q331.96 974.65 330.14 975.95 Q328.32 977.26 327.30 976.10 Q326.28 974.94 325.33 973.50 Q324.37 972.06 325.20 970.13 Q326.03 968.19 327.79 967.79 Q329.55 967.39 331.42 968.15 Q333.28 968.90 333.77 971.00Z" fill="#606060"/>
<path d="M325.45 979.03 Q326.64 979.70 325.44 981.77 Q324.23 983.84 322.70 984.96 Q321.17 986.08 319.37 985.44 Q317.56 984.79 315.58 983.13 Q313.60 981.46 315.34 979.64 Q317.07 977.82 319.03 976.80 Q321.00 975.78 322.63 977.07 Q324.26 978.36 325.45 979.03Z" fill="#606060"/>
<path d="M318.65 984.47 Q319.75 986.67 318.62 987.84 Q317.49 989.01 315.26 990.43 Q313.04 991.86 312.04 990.12 Q311.04 988.38 309.55 987.30 Q308.06 986.22 309.35 984.59 Q310.63 982.95 312.20 982.30 Q313.77 981.65 315.66 981.96 Q317.54 982.26 318.65 984.47Z" fill="#606060"/>
</g>
<g filter="url(#bl)">
<path d="M314.24 962.33 Q315.40 963.64 314.28 964.27 Q313.15 964.90 311.97 965.40 Q310.79 965.90 309.21 965.86 Q307.63 965.82 306.85 964.82 Q306.06 963.81 306.97 962.54 Q307.88 961.26 309.70 960.81 Q311.52 960.35 312.30 960.69 Q313.07 961.03 314.24 962.33Z" fill="#ffffff"/>
<path d="M318.13 957.68 Q318.52 958.28 318.18 958.92 Q317.83 959.56 316.93 959.88 Q316.04 960.20 315.04 959.83 Q314.04 959.45 314.04 958.90 Q314.04 958.35 314.26 957.45 Q314.48 956.55 315.20 956.62 Q315.92 956.70 316.83 956.89 Q317.74 957.09 318.13 957.68Z" fill="#d8d8d8"/>
<path d="M331.91 971.00 Q332.30 971.58 331.75 972.90 Q331.20 974.21 330.24 975.07 Q329.29 975.93 327.76 975.18 Q326.22 974.42 325.93 973.32 Q325.65 972.21 326.17 970.72 Q326.69 969.23 327.96 968.86 Q329.24 968.48 330.38 969.45 Q331.52 970.42 331.91 971.00Z" fill="#ffffff"/>
<path d="M324.04 978.84 Q325.04 980.00 324.83 981.99 Q324.62 983.99 322.64 984.70 Q320.66 985.41 318.59 984.59 Q316.52 983.76 316.15 982.64 Q315.77 981.52 315.92 979.68 Q316.07 977.85 318.66 977.23 Q321.26 976.61 322.15 977.15 Q323.04 977.69 324.04 978.84Z" fill="#ffffff"/>
<path d="M316.98 985.15 Q317.40 986.70 316.86 987.50 Q316.31 988.30 315.15 988.89 Q313.98 989.47 312.55 988.77 Q311.12 988.07 311.18 986.92 Q311.24 985.76 311.24 984.78 Q311.24 983.79 312.60 983.39 Q313.96 982.98 315.26 983.29 Q316.56 983.61 316.98 985.15Z" fill="#f0f0f0"/>
</g>
<g filter="url(#bl1)">
<ellipse cx="327.00" cy="961.20" rx="2.60" ry="2.00" fill="#9a9a9a"/>
<ellipse cx="305.30" cy="987.30" rx="2.60" ry="2.20" fill="#9a9a9a"/>
<ellipse cx="300.90" cy="972.10" rx="2.00" ry="3.60" fill="#6a6a6a"/>
</g>
<rect x="227.50" y="975.20" width="43.50" height="46.10" fill="#151515"/>
<circle cx="245.5" cy="998.2" r="17" fill="#2a2a2a" filter="url(#bl2)"/>
<g filter="url(#spk0)">
<ellipse cx="245.50" cy="998.20" rx="12.50" ry="12.50" fill="none" stroke="#f2f2f2" stroke-width="5.00"/>
</g>
<g filter="url(#spk3)">
<ellipse cx="245.50" cy="998.20" rx="12.50" ry="12.50" fill="none" stroke="#b0b0b0" stroke-width="4.00"/>
</g>
<g filter="url(#bl1)">
<ellipse cx="232.00" cy="998.00" rx="2.60" ry="4.00" fill="#f0f0f0"/>
<ellipse cx="250.00" cy="987.50" rx="3.00" ry="2.40" fill="#e0e0e0"/>
<ellipse cx="257.00" cy="1004.00" rx="2.80" ry="3.00" fill="#dddddd"/>
<ellipse cx="244.00" cy="1010.50" rx="3.00" ry="2.40" fill="#e8e8e8"/>
</g>
<path d="M227.50 975.9 H270.3 V1021.30" fill="none" stroke="#fff" stroke-width="1.7"/>
</g>
<rect x="228.20" y="1022.00" width="109.70" height="10.90" fill="#fff" stroke="#000" stroke-width="1.40"/>
<text x="282.30" y="1031.00" font-size="9.60" font-weight="bold" text-anchor="middle" fill="#000" textLength="41.6" lengthAdjust="spacingAndGlyphs">MFI=122</text>
<g clip-path="url(#cp7)">
<rect x="349.50" y="773.40" width="70.40" height="123.00" fill="#a6a6a6"/>
<rect x="349.50" y="773.40" width="70.40" height="123.00" fill="#000" filter="url(#nz)" opacity="0.32"/>
<rect x="349.50" y="773.40" width="70.40" height="123.00" fill="#fff" filter="url(#nzw)" opacity="0.32"/>
<circle cx="397" cy="800.6" r="16" fill="#c0c0c0" opacity="0.5" filter="url(#bl2)"/>
<g filter="url(#org4)">
<ellipse cx="397.10" cy="800.60" rx="14.00" ry="13.00" fill="none" stroke="#f0f0f0" stroke-width="4.50"/>
</g>
<g filter="url(#org1)">
<ellipse cx="397.10" cy="800.60" rx="14.00" ry="13.00" fill="none" stroke="#dddddd" stroke-width="3.00"/>
</g>
<g filter="url(#org3)">
<ellipse cx="397.10" cy="800.60" rx="9.50" ry="8.50" fill="#c8c8c8"/>
</g>
<circle cx="381" cy="858" r="15" fill="#8a8a8a" opacity="0.35" filter="url(#bl2)"/>
<g filter="url(#org4)">
<ellipse cx="380.50" cy="857.50" rx="10.50" ry="10.50" fill="none" stroke="#e8e8e8" stroke-width="4.00"/>
</g>
<ellipse cx="380.5" cy="857.5" rx="7.5" ry="8" fill="#2a2a2a" opacity="0.85" filter="url(#bl)"/>
<ellipse cx="377.20" cy="853.10" rx="2.70" ry="4.00" fill="#bdbdbd" stroke="#f4f4f4" stroke-width="1.5"/>
<ellipse cx="385.00" cy="855.90" rx="2.70" ry="3.20" fill="#bdbdbd" stroke="#f4f4f4" stroke-width="1.5"/>
<ellipse cx="377.90" cy="863.00" rx="3.20" ry="2.30" fill="#bdbdbd" stroke="#f4f4f4" stroke-width="1.5"/>
</g>
<text x="370.40" y="786.70" font-size="14.50" font-weight="bold" fill="#111">N</text>
<text x="394.30" y="842.90" font-size="15.20" font-weight="bold" fill="#111">pN</text>
<g clip-path="url(#cp8)">
<rect x="349.50" y="896.40" width="70.40" height="124.90" fill="#141414"/>
<rect x="349.50" y="896.40" width="70.40" height="124.90" fill="#fff" filter="url(#nzd)" opacity="0.05"/>
<circle cx="397" cy="923" r="21" fill="#2a2a2a" filter="url(#bl2)"/>
<g filter="url(#org1)">
<ellipse cx="397.00" cy="922.70" rx="12.00" ry="12.00" fill="#3c3c3c"/>
</g>
<g filter="url(#org2)">
<ellipse cx="397.10" cy="922.70" rx="16.00" ry="16.00" fill="none" stroke="#e0e0e0" stroke-width="4.00"/>
</g>
<g filter="url(#bl)">
<path d="M395.57 938.08 Q396.68 939.71 395.20 941.54 Q393.71 943.37 390.79 941.64 Q387.87 939.91 384.05 937.89 Q380.22 935.87 380.11 933.82 Q379.99 931.77 382.48 932.08 Q384.98 932.39 388.07 932.82 Q391.16 933.25 392.82 934.85 Q394.47 936.44 395.57 938.08Z" fill="#f6f6f6"/>
<path d="M404.43 938.76 Q404.24 939.79 403.07 940.72 Q401.91 941.66 400.02 942.38 Q398.13 943.09 395.96 942.70 Q393.78 942.32 393.39 941.35 Q393.01 940.38 393.77 938.84 Q394.54 937.30 396.38 937.59 Q398.21 937.87 401.42 937.81 Q404.63 937.74 404.43 938.76Z" fill="#f0f0f0"/>
<path d="M415.39 916.70 Q415.85 918.78 415.82 920.32 Q415.79 921.86 414.84 922.32 Q413.88 922.78 412.93 922.54 Q411.98 922.30 411.36 919.86 Q410.74 917.43 411.13 915.41 Q411.52 913.39 412.43 913.80 Q413.33 914.20 414.13 914.41 Q414.92 914.61 415.39 916.70Z" fill="#e0e0e0"/>
<path d="M408.50 905.36 Q408.77 906.01 408.13 906.80 Q407.49 907.60 406.52 907.57 Q405.54 907.55 404.74 907.32 Q403.94 907.09 403.39 906.60 Q402.85 906.11 403.29 905.53 Q403.73 904.94 404.84 904.26 Q405.96 903.57 407.09 904.14 Q408.23 904.70 408.50 905.36Z" fill="#f0f0f0"/>
</g>
<g filter="url(#bl)">
<ellipse cx="383.00" cy="928.00" rx="2.60" ry="3.00" fill="#cccccc"/>
<ellipse cx="389.50" cy="912.00" rx="1.80" ry="1.80" fill="#dddddd"/>
<ellipse cx="386.50" cy="917.00" rx="1.40" ry="1.40" fill="#dddddd"/>
<ellipse cx="403.00" cy="925.00" rx="1.40" ry="2.20" fill="#dddddd"/>
<ellipse cx="396.00" cy="920.00" rx="1.20" ry="1.20" fill="#bbbbbb"/>
</g>
<g filter="url(#bl2)" opacity="0.5">
<path d="M374.74 984.58 Q375.40 986.78 374.94 988.57 Q374.48 990.36 372.40 991.06 Q370.33 991.75 369.07 990.95 Q367.81 990.15 366.56 988.03 Q365.32 985.90 366.30 983.63 Q367.27 981.35 369.11 981.13 Q370.94 980.92 372.51 981.65 Q374.08 982.39 374.74 984.58Z" fill="#606060"/>
<path d="M384.35 986.58 Q384.65 988.08 384.09 989.79 Q383.53 991.51 381.92 991.96 Q380.30 992.42 378.42 992.22 Q376.55 992.02 376.28 990.29 Q376.01 988.57 376.80 986.84 Q377.60 985.11 379.29 984.18 Q380.98 983.25 382.51 984.16 Q384.05 985.07 384.35 986.58Z" fill="#606060"/>
<path d="M376.48 998.45 Q377.15 1000.64 375.57 1001.45 Q374.00 1002.26 371.49 1003.61 Q368.99 1004.97 367.59 1003.77 Q366.19 1002.56 364.87 1001.06 Q363.56 999.56 364.70 997.54 Q365.84 995.53 368.26 995.11 Q370.68 994.70 373.25 995.48 Q375.82 996.27 376.48 998.45Z" fill="#606060"/>
</g>
<g filter="url(#bl)">
<path d="M374.20 984.63 Q373.97 985.82 373.92 986.88 Q373.86 987.95 372.09 988.57 Q370.32 989.19 369.41 989.16 Q368.50 989.13 367.75 987.74 Q367.00 986.35 367.77 984.63 Q368.54 982.91 369.68 982.51 Q370.82 982.11 372.62 982.78 Q374.42 983.45 374.20 984.63Z" fill="#ffffff"/>
<path d="M383.39 986.64 Q383.84 987.97 383.17 989.30 Q382.51 990.64 381.83 991.25 Q381.15 991.87 379.82 991.30 Q378.50 990.72 378.34 989.45 Q378.19 988.17 378.19 987.17 Q378.19 986.17 379.26 985.18 Q380.33 984.19 381.64 984.76 Q382.95 985.32 383.39 986.64Z" fill="#f0f0f0"/>
<path d="M374.56 998.54 Q376.49 999.83 375.42 1000.77 Q374.34 1001.71 372.65 1002.22 Q370.96 1002.74 369.12 1002.26 Q367.27 1001.78 365.62 1000.69 Q363.96 999.60 365.73 998.51 Q367.50 997.43 369.31 996.80 Q371.12 996.17 371.88 996.71 Q372.63 997.26 374.56 998.54Z" fill="#ffffff"/>
</g>
<g filter="url(#bl1)">
<ellipse cx="376.00" cy="994.00" rx="1.60" ry="1.60" fill="#7a7a7a"/>
<ellipse cx="365.00" cy="993.00" rx="1.40" ry="1.40" fill="#5a5a5a"/>
</g>
</g>
<rect x="350.20" y="1022.00" width="69.00" height="10.90" fill="#fff" stroke="#000" stroke-width="1.40"/>
<text x="383.90" y="1031.00" font-size="9.60" font-weight="bold" text-anchor="middle" fill="#000" textLength="35.5" lengthAdjust="spacingAndGlyphs">MFI=71</text>
<g clip-path="url(#cp9)">
<rect x="431.10" y="773.40" width="71.10" height="123.00" fill="#999999"/>
<rect x="431.10" y="773.40" width="71.10" height="123.00" fill="#000" filter="url(#nz)" opacity="0.45"/>
<rect x="431.10" y="773.40" width="71.10" height="123.00" fill="#fff" filter="url(#nzw)" opacity="0.40"/>
<circle cx="454.4" cy="800.2" r="15" fill="#b0b0b0" opacity="0.5" filter="url(#bl2)"/>
<g filter="url(#org2)">
<ellipse cx="454.40" cy="800.20" rx="13.00" ry="13.00" fill="none" stroke="#eeeeee" stroke-width="3.00"/>
</g>
<g filter="url(#bl)">
<ellipse cx="467.84" cy="800.39" rx="0.92" ry="0.74" fill="#f5f5f5"/>
<ellipse cx="467.28" cy="802.02" rx="1.16" ry="0.93" fill="#f5f5f5"/>
<ellipse cx="467.35" cy="804.34" rx="0.81" ry="0.64" fill="#bcbcbc"/>
<ellipse cx="466.84" cy="805.80" rx="0.91" ry="0.73" fill="#bcbcbc"/>
<ellipse cx="464.24" cy="807.78" rx="0.87" ry="0.69" fill="#d0d0d0"/>
<ellipse cx="463.69" cy="809.29" rx="0.85" ry="0.68" fill="#e6e6e6"/>
<ellipse cx="461.74" cy="810.65" rx="1.19" ry="0.95" fill="#d0d0d0"/>
<ellipse cx="460.15" cy="811.48" rx="1.20" ry="0.96" fill="#e6e6e6"/>
<ellipse cx="458.62" cy="811.93" rx="0.97" ry="0.78" fill="#bcbcbc"/>
<ellipse cx="456.59" cy="813.76" rx="0.89" ry="0.71" fill="#bcbcbc"/>
<ellipse cx="453.75" cy="813.77" rx="1.28" ry="1.03" fill="#bcbcbc"/>
<ellipse cx="451.75" cy="812.97" rx="0.84" ry="0.67" fill="#d0d0d0"/>
<ellipse cx="450.43" cy="812.37" rx="1.00" ry="0.80" fill="#bcbcbc"/>
<ellipse cx="447.84" cy="812.43" rx="0.97" ry="0.78" fill="#f5f5f5"/>
<ellipse cx="446.54" cy="809.97" rx="0.98" ry="0.78" fill="#bcbcbc"/>
<ellipse cx="444.76" cy="810.33" rx="0.82" ry="0.66" fill="#f5f5f5"/>
<ellipse cx="443.37" cy="807.45" rx="1.19" ry="0.95" fill="#d0d0d0"/>
<ellipse cx="442.39" cy="806.46" rx="0.93" ry="0.75" fill="#f5f5f5"/>
<ellipse cx="441.87" cy="804.67" rx="1.17" ry="0.94" fill="#e6e6e6"/>
<ellipse cx="440.46" cy="801.71" rx="1.11" ry="0.88" fill="#f5f5f5"/>
<ellipse cx="441.11" cy="800.48" rx="1.20" ry="0.96" fill="#d0d0d0"/>
<ellipse cx="441.23" cy="798.72" rx="0.90" ry="0.72" fill="#e6e6e6"/>
<ellipse cx="442.01" cy="795.99" rx="1.04" ry="0.83" fill="#d0d0d0"/>
<ellipse cx="441.99" cy="794.45" rx="1.22" ry="0.97" fill="#d0d0d0"/>
<ellipse cx="443.30" cy="792.95" rx="1.26" ry="1.01" fill="#e6e6e6"/>
<ellipse cx="445.77" cy="790.81" rx="1.00" ry="0.80" fill="#f5f5f5"/>
<ellipse cx="446.72" cy="789.14" rx="1.00" ry="0.80" fill="#d0d0d0"/>
<ellipse cx="448.77" cy="788.35" rx="0.88" ry="0.71" fill="#e6e6e6"/>
<ellipse cx="450.54" cy="786.80" rx="0.82" ry="0.65" fill="#e6e6e6"/>
<ellipse cx="452.08" cy="786.43" rx="1.13" ry="0.91" fill="#e6e6e6"/>
<ellipse cx="454.27" cy="786.83" rx="0.97" ry="0.78" fill="#bcbcbc"/>
<ellipse cx="455.93" cy="787.63" rx="0.81" ry="0.65" fill="#bcbcbc"/>
<ellipse cx="458.50" cy="787.93" rx="1.08" ry="0.87" fill="#d0d0d0"/>
<ellipse cx="461.27" cy="788.03" rx="1.08" ry="0.86" fill="#e6e6e6"/>
<ellipse cx="462.08" cy="789.63" rx="0.85" ry="0.68" fill="#d0d0d0"/>
<ellipse cx="463.28" cy="791.42" rx="0.83" ry="0.66" fill="#e6e6e6"/>
<ellipse cx="465.42" cy="792.48" rx="0.80" ry="0.64" fill="#e6e6e6"/>
<ellipse cx="466.44" cy="793.40" rx="0.92" ry="0.73" fill="#bcbcbc"/>
<ellipse cx="466.84" cy="796.42" rx="1.05" ry="0.84" fill="#bcbcbc"/>
<ellipse cx="467.64" cy="798.00" rx="1.01" ry="0.81" fill="#f5f5f5"/>
</g>
<g filter="url(#org5)">
<ellipse cx="456.00" cy="801.00" rx="8.50" ry="8.50" fill="#c0c0c0"/>
</g>
<ellipse cx="496.10" cy="805.10" rx="4.40" ry="6.80" fill="none" stroke="#3a3a3a" stroke-width="1.2"/>
<ellipse cx="496.10" cy="805.10" rx="3.20" ry="5.60" fill="#c8c8c8" stroke="#e6e6e6" stroke-width="1.00"/>
<ellipse cx="451.20" cy="837.00" rx="4.14" ry="5.80" fill="none" stroke="#303030" stroke-width="1.2"/>
<ellipse cx="451.20" cy="837.00" rx="2.94" ry="4.60" fill="#b4b4b4" stroke="#e4e4e4" stroke-width="1.20"/>
<ellipse cx="467.80" cy="843.60" rx="5.62" ry="4.33" fill="none" stroke="#303030" stroke-width="1.2" transform="rotate(-20.0 467.80 843.60)"/>
<ellipse cx="467.80" cy="843.60" rx="4.42" ry="3.13" fill="#b4b4b4" stroke="#e4e4e4" stroke-width="1.20" transform="rotate(-20.0 467.80 843.60)"/>
<ellipse cx="466.70" cy="855.00" rx="4.88" ry="5.80" fill="none" stroke="#303030" stroke-width="1.2"/>
<ellipse cx="466.70" cy="855.00" rx="3.68" ry="4.60" fill="#b4b4b4" stroke="#e4e4e4" stroke-width="1.20"/>
<ellipse cx="478.90" cy="853.40" rx="5.06" ry="5.98" fill="none" stroke="#303030" stroke-width="1.2" transform="rotate(30.0 478.90 853.40)"/>
<ellipse cx="478.90" cy="853.40" rx="3.86" ry="4.78" fill="#b4b4b4" stroke="#e4e4e4" stroke-width="1.20" transform="rotate(30.0 478.90 853.40)"/>
<ellipse cx="465.00" cy="867.30" rx="5.98" ry="4.33" fill="none" stroke="#303030" stroke-width="1.2" transform="rotate(-20.0 465.00 867.30)"/>
<ellipse cx="465.00" cy="867.30" rx="4.78" ry="3.13" fill="#b4b4b4" stroke="#e4e4e4" stroke-width="1.20" transform="rotate(-20.0 465.00 867.30)"/>
<ellipse cx="475.70" cy="876.20" rx="7.27" ry="4.88" fill="none" stroke="#303030" stroke-width="1.2" transform="rotate(10.0 475.70 876.20)"/>
<ellipse cx="475.70" cy="876.20" rx="6.07" ry="3.68" fill="#b4b4b4" stroke="#e4e4e4" stroke-width="1.20" transform="rotate(10.0 475.70 876.20)"/>
</g>
<text x="433.20" y="787.40" font-size="15.00" font-weight="bold" fill="#111">N</text>
<text x="478.70" y="793.40" font-size="14.00" font-weight="bold" fill="#111" textLength="23.0" lengthAdjust="spacingAndGlyphs">osc</text>
<text x="433.10" y="860.00" font-size="15.20" font-weight="bold" fill="#111">pN</text>
<text x="462.70" y="892.60" font-size="14.00" font-weight="bold" fill="#111" textLength="23.2" lengthAdjust="spacingAndGlyphs">osc</text>
<g clip-path="url(#cp10)">
<rect x="431.10" y="896.40" width="71.10" height="123.00" fill="#141414"/>
<rect x="431.10" y="896.40" width="71.10" height="123.00" fill="#fff" filter="url(#nzd)" opacity="0.05"/>
<g filter="url(#bl2)" opacity="0.5">
<path d="M500.44 928.46 Q501.10 931.16 500.64 933.36 Q500.18 935.57 498.10 936.42 Q496.03 937.28 494.77 936.29 Q493.51 935.31 492.26 932.69 Q491.02 930.08 492.00 927.28 Q492.97 924.48 494.81 924.21 Q496.64 923.94 498.21 924.85 Q499.78 925.75 500.44 928.46Z" fill="#606060"/>
<path d="M456.14 960.51 Q456.52 962.26 455.81 964.26 Q455.11 966.26 453.05 966.79 Q450.99 967.32 448.60 967.09 Q446.21 966.86 445.87 964.84 Q445.53 962.83 446.54 960.81 Q447.55 958.79 449.70 957.71 Q451.85 956.62 453.81 957.68 Q455.76 958.75 456.14 960.51Z" fill="#606060"/>
<path d="M473.75 967.24 Q474.28 969.25 473.03 970.00 Q471.79 970.74 469.82 971.99 Q467.85 973.24 466.74 972.13 Q465.64 971.02 464.60 969.64 Q463.57 968.26 464.46 966.41 Q465.36 964.55 467.27 964.17 Q469.18 963.79 471.20 964.51 Q473.23 965.24 473.75 967.24Z" fill="#606060"/>
<path d="M482.24 974.87 Q483.30 975.38 482.23 976.93 Q481.15 978.48 479.77 979.32 Q478.40 980.16 476.78 979.68 Q475.16 979.19 473.39 977.95 Q471.62 976.70 473.17 975.33 Q474.72 973.97 476.49 973.20 Q478.25 972.44 479.71 973.40 Q481.17 974.37 482.24 974.87Z" fill="#606060"/>
<path d="M469.75 976.79 Q470.81 979.09 469.72 980.31 Q468.64 981.53 466.51 983.02 Q464.38 984.51 463.42 982.69 Q462.46 980.87 461.03 979.75 Q459.61 978.62 460.84 976.92 Q462.07 975.21 463.58 974.53 Q465.08 973.86 466.89 974.17 Q468.70 974.49 469.75 976.79Z" fill="#606060"/>
<path d="M467.54 988.51 Q467.65 990.26 467.25 991.57 Q466.85 992.89 465.48 992.99 Q464.12 993.08 462.48 992.38 Q460.83 991.68 460.21 990.57 Q459.59 989.46 460.27 988.12 Q460.96 986.79 462.62 986.37 Q464.27 985.95 465.85 986.35 Q467.43 986.76 467.54 988.51Z" fill="#606060"/>
<path d="M482.51 998.32 Q483.91 999.16 482.08 1000.80 Q480.25 1002.44 478.84 1002.96 Q477.43 1003.48 476.10 1003.10 Q474.77 1002.73 474.22 1001.40 Q473.67 1000.06 474.12 999.15 Q474.57 998.24 476.62 997.15 Q478.67 996.06 479.89 996.77 Q481.10 997.48 482.51 998.32Z" fill="#606060"/>
</g>
<g filter="url(#bl)">
<path d="M499.81 927.42 Q500.41 929.54 499.75 931.53 Q499.10 933.52 498.20 934.54 Q497.29 935.57 495.52 934.44 Q493.75 933.31 493.34 932.12 Q492.93 930.93 493.27 929.36 Q493.61 927.80 495.37 926.02 Q497.12 924.23 498.17 924.77 Q499.22 925.30 499.81 927.42Z" fill="#ffffff"/>
<path d="M455.55 960.36 Q456.37 961.75 455.13 963.53 Q453.88 965.32 452.90 965.56 Q451.93 965.79 450.36 965.34 Q448.79 964.89 448.59 963.35 Q448.39 961.82 448.30 960.28 Q448.22 958.74 449.86 958.55 Q451.50 958.36 453.11 958.67 Q454.73 958.98 455.55 960.36Z" fill="#ffffff"/>
<path d="M472.17 966.80 Q472.68 968.46 472.70 969.51 Q472.72 970.56 470.99 970.74 Q469.27 970.92 468.07 970.77 Q466.88 970.62 465.70 969.74 Q464.52 968.86 464.88 967.32 Q465.23 965.79 466.75 965.37 Q468.28 964.95 469.97 965.04 Q471.66 965.13 472.17 966.80Z" fill="#ffffff"/>
<path d="M480.44 975.17 Q480.74 976.23 480.87 977.04 Q481.01 977.86 479.69 978.20 Q478.38 978.54 476.43 978.25 Q474.49 977.96 473.95 977.02 Q473.40 976.09 474.42 975.31 Q475.43 974.53 476.54 974.06 Q477.64 973.58 478.89 973.85 Q480.14 974.11 480.44 975.17Z" fill="#ffffff"/>
<path d="M467.27 977.71 Q467.74 979.08 467.63 980.44 Q467.53 981.80 466.28 982.29 Q465.02 982.79 464.21 981.68 Q463.40 980.57 462.49 979.88 Q461.57 979.18 462.26 977.74 Q462.95 976.30 463.83 975.91 Q464.72 975.53 465.76 975.93 Q466.79 976.33 467.27 977.71Z" fill="#ffffff"/>
<path d="M465.79 989.25 Q466.08 989.70 466.06 990.76 Q466.03 991.82 464.71 991.84 Q463.39 991.86 462.19 991.68 Q460.99 991.49 460.89 990.94 Q460.78 990.38 461.07 989.56 Q461.35 988.74 462.35 988.45 Q463.34 988.17 464.42 988.48 Q465.50 988.80 465.79 989.25Z" fill="#ffffff"/>
<path d="M480.30 999.17 Q480.73 1000.01 480.50 1001.14 Q480.28 1002.28 479.10 1002.64 Q477.92 1003.01 476.89 1002.43 Q475.87 1001.85 475.13 1001.07 Q474.40 1000.29 474.82 999.05 Q475.24 997.80 476.23 997.85 Q477.22 997.91 478.55 998.12 Q479.87 998.33 480.30 999.17Z" fill="#ffffff"/>
</g>
</g>
<text x="100.30" y="1057.60" font-size="20.50" font-weight="bold" fill="#000">i</text>
<text x="166.00" y="1057.60" font-size="20.50" font-weight="bold" fill="#000">ii</text>
<text x="271.80" y="1057.60" font-size="20.50" font-weight="bold" fill="#000">iii</text>
<text x="375.60" y="1057.60" font-size="20.50" font-weight="bold" fill="#000">iv</text>
<text x="463.40" y="1057.60" font-size="20.50" font-weight="bold" fill="#000">v</text></svg></body></html>
